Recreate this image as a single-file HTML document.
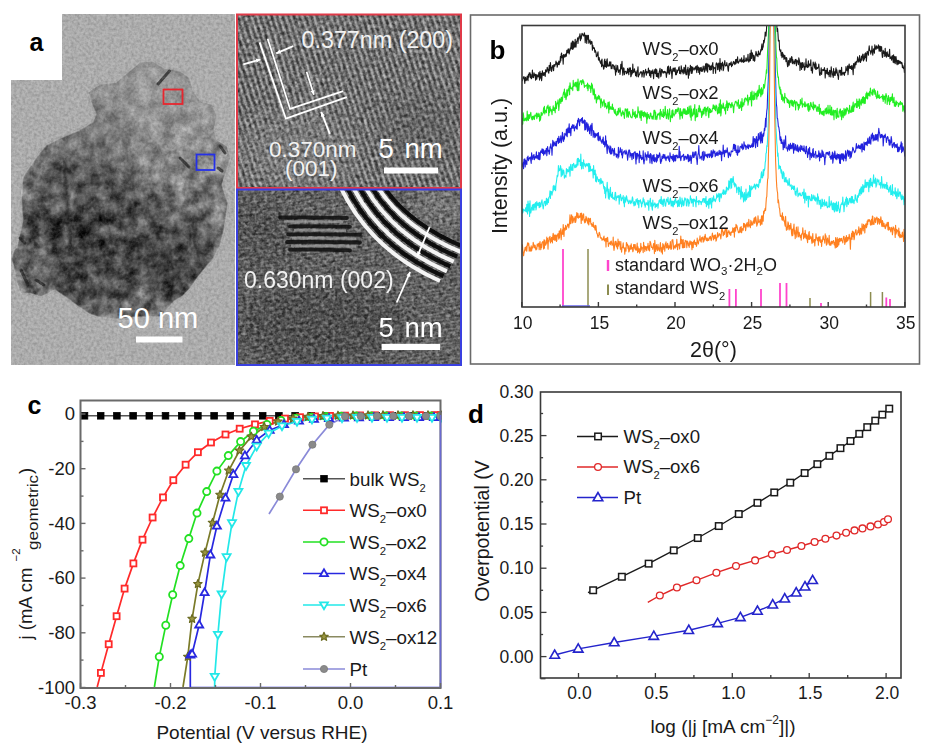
<!DOCTYPE html>
<html><head><meta charset="utf-8"><style>
html,body{margin:0;padding:0;background:#fff;width:928px;height:752px;overflow:hidden}
svg{display:block}
</style></head><body>
<svg width="928" height="752" viewBox="0 0 928 752">
<rect width="928" height="752" fill="#fff"/>
<defs>
<filter id="noiseA" x="0" y="0" width="100%" height="100%">
  <feTurbulence type="fractalNoise" baseFrequency="0.35" numOctaves="2" seed="3" result="n"/>
  <feColorMatrix in="n" type="matrix" values="0 0 0 0 0  0 0 0 0 0  0 0 0 0 0  1.6 0 0 0 -0.55" />
</filter>
<filter id="noiseW" x="0" y="0" width="100%" height="100%">
  <feTurbulence type="fractalNoise" baseFrequency="0.35" numOctaves="2" seed="9" result="n"/>
  <feColorMatrix in="n" type="matrix" values="0 0 0 0 1  0 0 0 0 1  0 0 0 0 1  1.6 0 0 0 -0.6" />
</filter>
<filter id="noiseB" x="0" y="0" width="100%" height="100%">
  <feTurbulence type="fractalNoise" baseFrequency="0.28" numOctaves="2" seed="5" result="n"/>
  <feColorMatrix in="n" type="matrix" values="0 0 0 0 0  0 0 0 0 0  0 0 0 0 0  2.2 0 0 0 -0.75" />
</filter>
<filter id="noiseBW" x="0" y="0" width="100%" height="100%">
  <feTurbulence type="fractalNoise" baseFrequency="0.28" numOctaves="2" seed="11" result="n"/>
  <feColorMatrix in="n" type="matrix" values="0 0 0 0 1  0 0 0 0 1  0 0 0 0 1  2.2 0 0 0 -0.8" />
</filter>
<filter id="texD" x="0" y="0" width="100%" height="100%">
  <feTurbulence type="fractalNoise" baseFrequency="0.09" numOctaves="3" seed="4" result="n"/>
  <feColorMatrix in="n" type="matrix" values="0 0 0 0 0.08  0 0 0 0 0.08  0 0 0 0 0.08  0 0 -3.2 0 1.55" />
</filter>
<filter id="texL" x="0" y="0" width="100%" height="100%">
  <feTurbulence type="fractalNoise" baseFrequency="0.11" numOctaves="3" seed="17" result="n"/>
  <feColorMatrix in="n" type="matrix" values="0 0 0 0 0.9  0 0 0 0 0.9  0 0 0 0 0.9  0 0 3.2 0 -1.75" />
</filter>
<filter id="texO" x="0" y="0" width="100%" height="100%" color-interpolation-filters="sRGB">
  <feTurbulence type="fractalNoise" baseFrequency="0.08" numOctaves="3" seed="4" result="n"/>
  <feColorMatrix in="n" type="matrix" values="1.5 0 0 0 -0.33  1.5 0 0 0 -0.33  1.5 0 0 0 -0.33  0 0 0 0 1" />
</filter>
<filter id="blur3"><feGaussianBlur stdDeviation="3"/></filter>
<filter id="blur6"><feGaussianBlur stdDeviation="6"/></filter>
<filter id="blur10"><feGaussianBlur stdDeviation="10"/></filter>
<filter id="blur1"><feGaussianBlur stdDeviation="0.8"/></filter>
<filter id="blur05"><feGaussianBlur stdDeviation="0.5"/></filter>
<clipPath id="clipL"><rect x="11" y="14" width="224" height="351"/></clipPath>
<clipPath id="clipT"><rect x="237" y="15" width="224" height="173"/></clipPath>
<clipPath id="clipB"><rect x="237" y="190" width="224" height="175"/></clipPath>
<clipPath id="clipPb"><rect x="522" y="25.5" width="383" height="282"/></clipPath>
<clipPath id="clipPc"><rect x="80" y="400" width="362" height="289"/></clipPath>
<clipPath id="clipPd"><rect x="540" y="392" width="362" height="287"/></clipPath>
<pattern id="fringeT" patternUnits="userSpaceOnUse" width="5.4" height="40" patternTransform="rotate(-18)">
  <rect width="5.4" height="40" fill="#4a4a4a"/>
  <rect x="0.6" width="2.6" height="40" fill="#a2a2a2"/>
</pattern>
<pattern id="fringeB" patternUnits="userSpaceOnUse" width="40" height="3.4" patternTransform="rotate(-8)">
  <rect width="40" height="3.4" fill="#565656"/>
  <rect y="0" width="40" height="1.4" fill="#6e6e6e"/>
</pattern>
</defs>
<clipPath id="clipPart"><polygon points="11,259 14,250 17,247 22.7,221 21.2,197.7 22.7,177.3 34.4,159.7 46,145 60.7,137.8 78.3,130.5 92.9,121.7 96,114 91,102 88,92 100,84 116,82 128,72 140,62 152,61 165,68 180,71 190,78 193,90 200,101 212,104 217,116 214,130 217,140 227,146 231,158 226,172 222,185 228,203 224,230 220.6,244.2 213.7,258 203.3,270.1 196.4,278.8 189.5,289.1 182.6,296 174,301.2 167,310 160,316.8 136,317 113.8,319.3 99.9,317.6 89.5,314 79.2,307.2 65.3,296.8 55,290 41.1,296.8 30.7,293.4 20.4,293.4 16.9,283 13.5,265.7"/></clipPath>
<g clip-path="url(#clipL)">
<rect x="11" y="14" width="224" height="351" fill="#b2b2b2"/>
<polygon points="11,259 14,250 17,247 22.7,221 21.2,197.7 22.7,177.3 34.4,159.7 46,145 60.7,137.8 78.3,130.5 92.9,121.7 96,114 91,102 88,92 100,84 116,82 128,72 140,62 152,61 165,68 180,71 190,78 193,90 200,101 212,104 217,116 214,130 217,140 227,146 231,158 226,172 222,185 228,203 224,230 220.6,244.2 213.7,258 203.3,270.1 196.4,278.8 189.5,289.1 182.6,296 174,301.2 167,310 160,316.8 136,317 113.8,319.3 99.9,317.6 89.5,314 79.2,307.2 65.3,296.8 55,290 41.1,296.8 30.7,293.4 20.4,293.4 16.9,283 13.5,265.7" fill="#7c7c7c" filter="url(#blur1)"/>
<g clip-path="url(#clipPart)"><g filter="url(#blur6)">
<polygon points="88,92 100,84 116,82 128,72 140,62 152,61 165,68 180,71 190,78 193,90 200,101 212,104 217,116 214,130 217,140 227,146 231,158 226,172 215,180 195,170 170,150 140,135 120,125 100,118" fill="#aaaaaa"/>
<polygon points="92,100 120,95 130,110 125,128 100,130 90,120" fill="#8c8c8c"/>
<polygon points="130,128 160,135 200,150 215,175 205,195 180,190 150,175 130,160" fill="#a2a2a2"/>
<ellipse cx="92" cy="235" rx="68" ry="66" fill="#0a0a0a"/><ellipse cx="75" cy="212" rx="32" ry="26" fill="#000"/>
<ellipse cx="165" cy="255" rx="50" ry="45" fill="#1e1e1e"/><ellipse cx="140" cy="215" rx="30" ry="25" fill="#333"/>
<ellipse cx="72" cy="185" rx="35" ry="28" fill="#4a4a4a"/>
<ellipse cx="120" cy="300" rx="45" ry="16" fill="#505050"/>
<ellipse cx="190" cy="215" rx="25" ry="20" fill="#5e5e5e"/>
<ellipse cx="35" cy="270" rx="22" ry="20" fill="#686868"/>
</g>
</g>
<g clip-path="url(#clipPart)">
<mask id="texMask" maskUnits="userSpaceOnUse" x="11" y="14" width="224" height="351"><rect x="11" y="14" width="224" height="351" fill="url(#texGrad)"/></mask>
<linearGradient id="texGrad" gradientUnits="userSpaceOnUse" x1="0" y1="70" x2="0" y2="200"><stop offset="0" stop-color="#555"/><stop offset="1" stop-color="#fff"/></linearGradient>
<rect x="11" y="50" width="224" height="280" filter="url(#texO)" opacity="0.5" mask="url(#texMask)"/>
</g>
<polygon points="11,259 14,250 17,247 22.7,221 21.2,197.7 22.7,177.3 34.4,159.7 46,145 60.7,137.8 78.3,130.5 92.9,121.7 96,114 91,102 88,92 100,84 116,82 128,72 140,62 152,61 165,68 180,71 190,78 193,90 200,101 212,104 217,116 214,130 217,140 227,146 231,158 226,172 222,185 228,203 224,230 220.6,244.2 213.7,258 203.3,270.1 196.4,278.8 189.5,289.1 182.6,296 174,301.2 167,310 160,316.8 136,317 113.8,319.3 99.9,317.6 89.5,314 79.2,307.2 65.3,296.8 55,290 41.1,296.8 30.7,293.4 20.4,293.4 16.9,283 13.5,265.7" fill="none" stroke="#d4d4d4" stroke-width="1.4" opacity="0.4" filter="url(#blur05)"/>
<line x1="64" y1="160" x2="71" y2="250" stroke="#1a1a1a" stroke-width="3" opacity="0.7" filter="url(#blur1)"/>
<g stroke="#1a1a1a" stroke-width="3" opacity="0.7" stroke-linecap="round" filter="url(#blur05)"><line x1="20" y1="238" x2="25" y2="243"/><line x1="21" y1="270" x2="28" y2="285"/><line x1="36" y1="280" x2="44" y2="285"/><line x1="180" y1="158" x2="189" y2="167"/><line x1="220" y1="146" x2="225" y2="153"/><line x1="218" y1="168" x2="222" y2="171"/></g>
<line x1="158" y1="84" x2="169.5" y2="71" stroke="#2a2a2a" stroke-width="3" opacity="0.8" stroke-linecap="round"/>
<rect x="11" y="14" width="224" height="351" filter="url(#noiseA)" opacity="0.2"/>
<rect x="11" y="14" width="224" height="351" filter="url(#noiseW)" opacity="0.17"/>
</g>
<rect x="163.5" y="89.5" width="19" height="14.5" fill="none" stroke="#e8262e" stroke-width="1.8"/>
<rect x="196.5" y="154.5" width="18" height="15.5" fill="none" stroke="#2530e8" stroke-width="1.8"/>
<rect x="11" y="14" width="51" height="66" fill="#fff"/>
<text x="29.5" y="51" font-family='"Liberation Sans", sans-serif' font-weight="bold" font-size="25" fill="#000">a</text>
<text x="117.6" y="327.6" font-family='"Liberation Sans", sans-serif' font-size="29" fill="#fff">50 nm</text>
<rect x="136" y="336.5" width="46.5" height="6" fill="#fff"/>
<g clip-path="url(#clipT)">
<rect x="237" y="15" width="224" height="173" fill="url(#fringeT)"/>
<g filter="url(#blur10)" opacity="0.5"><ellipse cx="300" cy="150" rx="60" ry="40" fill="#8a8a8a"/><ellipse cx="420" cy="130" rx="40" ry="40" fill="#5a5a5a"/></g>
<rect x="237" y="15" width="224" height="173" filter="url(#noiseB)" opacity="0.45"/>
<rect x="237" y="15" width="224" height="173" filter="url(#noiseBW)" opacity="0.35"/>
</g>
<rect x="237" y="14.5" width="224" height="173.5" fill="none" stroke="#e03a48" stroke-width="2"/>
<polyline points="259.6,42.4 285.9,118.7 346.8,97.2" stroke="#fff" stroke-width="1.8" fill="none"/>
<polyline points="267.7,38.8 290.1,108.9 343.2,91.2" stroke="#fff" stroke-width="1.8" fill="none"/>
<line x1="243.3" y1="64.4" x2="260.4" y2="59.5" stroke="#fff" stroke-width="1.8"/><polygon points="260.4,59.5 256.7,62.8 255.5,58.6" fill="#fff"/>
<line x1="293.2" y1="46.1" x2="276.2" y2="53.4" stroke="#fff" stroke-width="1.8"/><polygon points="276.2,53.4 279.5,49.6 281.2,53.6" fill="#fff"/>
<line x1="306.6" y1="71.7" x2="313.9" y2="94.8" stroke="#fff" stroke-width="1.8"/><polygon points="313.9,94.8 310.5,91.2 314.6,89.9" fill="#fff"/>
<line x1="329.8" y1="133.8" x2="321.2" y2="111.9" stroke="#fff" stroke-width="1.8"/><polygon points="321.2,111.9 324.9,115.3 320.8,116.9" fill="#fff"/>
<text x="301.5" y="48" font-family='"Liberation Sans", sans-serif' font-size="23.3" fill="#f2f2f2">0.377nm (200)</text>
<text x="269" y="157" font-family='"Liberation Sans", sans-serif' font-size="22.5" fill="#f2f2f2">0.370nm</text>
<text x="285" y="175.5" font-family='"Liberation Sans", sans-serif' font-size="22.5" fill="#f2f2f2">(001)</text>
<text x="378.5" y="158" font-family='"Liberation Sans", sans-serif' font-size="27.5" fill="#fff">5</text>
<text x="404.5" y="158" font-family='"Liberation Sans", sans-serif' font-size="27.5" fill="#fff">nm</text>
<rect x="384" y="167.5" width="54" height="6" fill="#fff"/>
<g clip-path="url(#clipB)">
<rect x="237" y="190" width="224" height="175" fill="url(#fringeB)"/>
<g filter="url(#blur10)"><ellipse cx="320" cy="325" rx="85" ry="40" fill="#3c3c3c" opacity="0.6"/><ellipse cx="262" cy="235" rx="28" ry="35" fill="#444" opacity="0.6"/><ellipse cx="440" cy="205" rx="30" ry="25" fill="#8a8a8a" opacity="0.6"/></g>
<rect x="237" y="190" width="224" height="175" filter="url(#noiseB)" opacity="0.5"/>
<rect x="237" y="190" width="224" height="175" filter="url(#noiseBW)" opacity="0.35"/>
<g filter="url(#blur05)">
<path d="M280.0,217.5 Q313.5,217.0 347.0,218.0" stroke="#101010" stroke-width="3.8" fill="none" opacity="0.85" stroke-linecap="round"/>
<path d="M284.0,221.5 Q313.5,221.0 343.0,222.0" stroke="#a8a8a8" stroke-width="2.4" fill="none" opacity="0.6"/>
<path d="M290.0,226.3 Q320.0,225.8 350.0,226.8" stroke="#101010" stroke-width="3.8" fill="none" opacity="0.85" stroke-linecap="round"/>
<path d="M294.0,230.3 Q320.0,229.8 346.0,230.8" stroke="#a8a8a8" stroke-width="2.4" fill="none" opacity="0.6"/>
<path d="M288.0,234.3 Q324.0,233.8 360.0,234.8" stroke="#101010" stroke-width="3.8" fill="none" opacity="0.85" stroke-linecap="round"/>
<path d="M292.0,238.3 Q324.0,237.8 356.0,238.8" stroke="#a8a8a8" stroke-width="2.4" fill="none" opacity="0.6"/>
<path d="M287.0,242.0 Q323.5,241.5 360.0,242.5" stroke="#101010" stroke-width="3.8" fill="none" opacity="0.85" stroke-linecap="round"/>
<path d="M291.0,246.0 Q323.5,245.5 356.0,246.5" stroke="#a8a8a8" stroke-width="2.4" fill="none" opacity="0.6"/>
<path d="M290.0,249.8 Q320.0,249.3 350.0,250.3" stroke="#101010" stroke-width="3.8" fill="none" opacity="0.85" stroke-linecap="round"/>
</g>
<g filter="url(#blur05)">
<path d="M340.0,186.0 Q370.0,250.0 440.0,281.0" stroke="#f4f4f4" stroke-width="4" fill="none"/>
<path d="M346.1,186.0 Q375.7,246.4 443.4,276.1" stroke="#080808" stroke-width="4" fill="none"/>
<path d="M352.3,186.0 Q381.4,242.9 446.9,271.3" stroke="#f4f4f4" stroke-width="4" fill="none"/>
<path d="M358.4,186.0 Q387.1,239.3 450.3,266.4" stroke="#080808" stroke-width="4" fill="none"/>
<path d="M364.6,186.0 Q392.9,235.7 453.7,261.6" stroke="#f4f4f4" stroke-width="4" fill="none"/>
<path d="M370.7,186.0 Q398.6,232.1 457.1,256.7" stroke="#080808" stroke-width="4" fill="none"/>
<path d="M376.9,186.0 Q404.3,228.6 460.6,251.9" stroke="#f4f4f4" stroke-width="4" fill="none"/>
<path d="M383.0,186.0 Q410.0,225.0 464.0,247.0" stroke="#080808" stroke-width="4" fill="none"/>
</g>
</g>
<rect x="237" y="189.5" width="224" height="175.5" fill="none" stroke="#3a40e0" stroke-width="2"/>
<line x1="396.7" y1="302.5" x2="410.1" y2="272.0" stroke="#fff" stroke-width="1.8"/><polygon points="410.1,272.0 410.3,277.0 406.3,275.2" fill="#fff"/>
<line x1="429.6" y1="227.0" x2="417.4" y2="256.2" stroke="#fff" stroke-width="1.8"/><polygon points="417.4,256.2 417.1,251.2 421.1,252.9" fill="#fff"/>
<text x="244" y="288" font-family='"Liberation Sans", sans-serif' font-size="23" fill="#f2f2f2">0.630nm (002)</text>
<text x="378.5" y="336.5" font-family='"Liberation Sans", sans-serif' font-size="27.5" fill="#fff">5</text>
<text x="404.5" y="336.5" font-family='"Liberation Sans", sans-serif' font-size="27.5" fill="#fff">nm</text>
<rect x="381.6" y="343.8" width="58.5" height="6.2" fill="#fff"/>
<rect x="470.5" y="15" width="449" height="349" fill="#fff" stroke="#6a6a6a" stroke-width="1.6"/>
<g clip-path="url(#clipPb)">
<polyline points="522,79.9 522.4,80.8 522.8,79 523.2,77 523.6,78.3 524,76.6 524.4,79.6 524.8,83.4 525.2,77.8 525.6,77.3 526,80.6 526.4,80.1 526.8,79.2 527.2,76 527.6,78.7 528,80.7 528.4,74.5 528.8,77.1 529.2,72.7 529.6,74.4 530,72.7 530.4,77.4 530.8,74.2 531.2,78.8 531.6,78.3 532,77.2 532.4,70.1 532.8,76 533.2,77.3 533.6,77.7 534,72.7 534.4,75.8 534.8,74.2 535.2,74.6 535.6,80.1 536,74.4 536.4,76.7 536.8,79.3 537.2,74.9 537.6,76.2 538,76.8 538.4,76.5 538.8,72.6 539.2,76.4 539.6,80.1 540,71.3 540.4,78.2 540.8,75.8 541.2,73.2 541.6,80.8 542,76.8 542.4,70.7 542.8,74.2 543.2,75.4 543.6,72.8 544,75.1 544.4,72.6 544.8,74.5 545.2,76.5 545.6,69.9 546,72.3 546.4,70 546.8,71.5 547.2,67.2 547.6,68.8 548,69.6 548.4,72.6 548.8,73.1 549.2,65.4 549.6,66.7 550,70.7 550.4,62.5 550.8,66.8 551.2,67.6 551.6,71.4 552,69.4 552.4,66 552.8,65.6 553.2,65.7 553.6,70.7 554,64.6 554.4,64.7 554.8,66.3 555.2,64.6 555.6,64.1 556,61.1 556.4,64.1 556.8,62.5 557.2,67.1 557.6,65.2 558,62.8 558.4,64.5 558.8,61.1 559.2,64.8 559.6,61.2 560,62.6 560.4,56.5 560.8,61 561.2,54.5 561.6,53 562,57.8 562.4,55.6 562.8,58.3 563.2,64.1 563.6,54.5 564,54.7 564.4,56.7 564.8,57.2 565.2,54.7 565.6,54.2 566,56.5 566.4,55.5 566.8,50.4 567.2,52.9 567.6,52.8 568,49.1 568.4,52.6 568.8,48.8 569.2,53.9 569.6,51.1 570,50.4 570.4,47.9 570.8,48.9 571.2,42.8 571.6,45 572,49 572.4,41.1 572.8,49.5 573.2,41.2 573.6,48.2 574,42.8 574.4,47.2 574.8,44.7 575.2,39.2 575.6,47 576,47.1 576.4,42.1 576.8,40.9 577.2,40.7 577.6,37.8 578,43.5 578.4,38 578.8,39 579.2,36.2 579.6,36.2 580,33.7 580.4,40.8 580.8,36.1 581.2,38.9 581.6,35.6 582,33.3 582.4,34.4 582.8,34 583.2,36 583.6,35.2 584,35.8 584.4,32.9 584.8,35 585.2,42.7 585.6,36.1 586,35.3 586.4,39.8 586.8,43.4 587.2,35.2 587.6,39.2 588,38.3 588.4,35.3 588.8,43.1 589.2,41.2 589.6,41.9 590,39.9 590.4,44.1 590.8,41.8 591.2,43.6 591.6,41.4 592,41.8 592.4,50.2 592.8,45.3 593.2,48.4 593.6,48.2 594,47.6 594.4,48.1 594.8,52.3 595.2,50.2 595.6,51.3 596,52.5 596.4,56.7 596.8,55.9 597.2,55.7 597.6,53.6 598,51.8 598.4,59.5 598.8,60.3 599.2,57.6 599.6,60.4 600,61.8 600.4,62.7 600.8,63.6 601.2,60.2 601.6,66.8 602,59 602.4,65.7 602.8,64.8 603.2,66.1 603.6,69.3 604,68.3 604.4,60.6 604.8,59.1 605.2,66.8 605.6,61.5 606,64.7 606.4,67.4 606.8,60.2 607.2,58.9 607.6,66.2 608,65.8 608.4,65.1 608.8,66.1 609.2,63.6 609.6,61.8 610,66 610.4,63.8 610.8,61.9 611.2,68.6 611.6,67 612,68.6 612.4,64.6 612.8,65.8 613.2,64.9 613.6,65.5 614,68.9 614.4,66.1 614.8,69.7 615.2,69.8 615.6,75.1 616,65 616.4,72 616.8,69.3 617.2,69.7 617.6,65.5 618,68.7 618.4,72.5 618.8,70.2 619.2,70.8 619.6,69.9 620,74.4 620.4,70.9 620.8,64.4 621.2,69 621.6,65.2 622,61.3 622.4,69.5 622.8,75.1 623.2,71.3 623.6,67.7 624,68.4 624.4,74.6 624.8,71.7 625.2,71.4 625.6,71.2 626,71.5 626.4,73.8 626.8,73.1 627.2,72.1 627.6,68.3 628,73 628.4,69.5 628.8,74.8 629.2,67.8 629.6,71.2 630,71.6 630.4,67.7 630.8,76.8 631.2,76.1 631.6,70.3 632,74.1 632.4,72.9 632.8,64 633.2,72.6 633.6,71.7 634,72.1 634.4,68.7 634.8,71.1 635.2,71.4 635.6,75.6 636,73 636.4,72 636.8,76.7 637.2,70.4 637.6,71 638,66.7 638.4,76.9 638.8,75.1 639.2,75 639.6,74.3 640,72.6 640.4,73 640.8,71.6 641.2,71.7 641.6,72.5 642,76.9 642.4,74.1 642.8,72.3 643.2,70.8 643.6,70.6 644,77.3 644.4,74.1 644.8,72.8 645.2,71.6 645.6,69.3 646,72.5 646.4,75.3 646.8,71.5 647.2,72.1 647.6,72.1 648,73.1 648.4,68.1 648.8,72.1 649.2,70.3 649.6,75.6 650,70.6 650.4,74.6 650.8,77.5 651.2,71.9 651.6,71 652,73.4 652.4,72.8 652.8,69.8 653.2,74.1 653.6,78.8 654,71.9 654.4,72.1 654.8,69.5 655.2,73.6 655.6,68.9 656,69.2 656.4,76.4 656.8,69.8 657.2,75.7 657.6,77 658,73.2 658.4,74.1 658.8,78.3 659.2,71.8 659.6,70.6 660,68.3 660.4,72.4 660.8,76.7 661.2,75.1 661.6,69.4 662,69.6 662.4,70.7 662.8,73 663.2,71.5 663.6,72.7 664,73 664.4,71.2 664.8,71.9 665.2,72.6 665.6,71.7 666,73.5 666.4,77.5 666.8,73.7 667.2,72 667.6,66.8 668,73 668.4,66 668.8,67.6 669.2,74.3 669.6,73.9 670,71.3 670.4,66.6 670.8,70.5 671.2,69.6 671.6,73.5 672,78.4 672.4,72.2 672.8,69.2 673.2,68 673.6,71.3 674,70.9 674.4,68 674.8,71.8 675.2,67.9 675.6,74.7 676,74.5 676.4,74.6 676.8,69.9 677.2,72.8 677.6,70.8 678,70 678.4,70.2 678.8,67.3 679.2,66.8 679.6,73.5 680,70.5 680.4,71.7 680.8,74 681.2,65.8 681.6,68.6 682,71.5 682.4,72.1 682.8,69.8 683.2,74 683.6,71.5 684,67.2 684.4,68 684.8,73.2 685.2,72.2 685.6,65 686,74.8 686.4,72.5 686.8,74.7 687.2,69.5 687.6,69.7 688,67.2 688.4,78.2 688.8,70 689.2,75.3 689.6,68.5 690,70.9 690.4,65.4 690.8,69.3 691.2,73.3 691.6,66.6 692,73.5 692.4,71.3 692.8,67.1 693.2,68.7 693.6,68.8 694,70.1 694.4,68.6 694.8,67.7 695.2,69.2 695.6,67 696,66.2 696.4,69.9 696.8,72.7 697.2,65.4 697.6,70 698,68 698.4,67 698.8,72.5 699.2,68.3 699.6,74.3 700,67.5 700.4,70.9 700.8,69 701.2,67.4 701.6,71.4 702,69.1 702.4,71.3 702.8,69.3 703.2,66.1 703.6,69 704,69.4 704.4,72.1 704.8,66.4 705.2,69 705.6,63.9 706,70.9 706.4,65.7 706.8,63.4 707.2,68.6 707.6,72.1 708,64.1 708.4,65.4 708.8,66.4 709.2,65.1 709.6,69.6 710,66 710.4,66.2 710.8,70.1 711.2,66 711.6,69.5 712,65.2 712.4,64.4 712.8,62.5 713.2,73.5 713.6,66.9 714,68.6 714.4,67.7 714.8,68.2 715.2,67.8 715.6,73.3 716,64.4 716.4,62.8 716.8,64.4 717.2,63.4 717.6,69.6 718,69.7 718.4,64.3 718.8,63 719.2,66 719.6,71.2 720,58.5 720.4,68.5 720.8,63.6 721.2,69.9 721.6,63.5 722,65.8 722.4,62.1 722.8,63.6 723.2,70.7 723.6,68.9 724,65.2 724.4,63.7 724.8,60.6 725.2,65 725.6,66 726,65.8 726.4,65.7 726.8,62.6 727.2,65.7 727.6,65.7 728,69.6 728.4,71.3 728.8,65.2 729.2,63.3 729.6,65.3 730,63.6 730.4,63.1 730.8,65 731.2,61.9 731.6,66.7 732,64.5 732.4,65.4 732.8,64 733.2,62.2 733.6,61.4 734,63.4 734.4,62.3 734.8,64.6 735.2,63.7 735.6,59.5 736,63.7 736.4,59.3 736.8,61.3 737.2,62.2 737.6,56.7 738,63 738.4,63.1 738.8,62 739.2,61.1 739.6,61.1 740,59.1 740.4,61.1 740.8,60.1 741.2,61.9 741.6,57.9 742,62 742.4,61.6 742.8,60.6 743.2,59.6 743.6,62.4 744,55.6 744.4,61.8 744.8,61 745.2,60.9 745.6,61.1 746,57.8 746.4,58.8 746.8,61.3 747.2,60.6 747.6,59.7 748,54.4 748.4,60.4 748.8,62.1 749.2,61.4 749.6,58.9 750,53.4 750.4,60.7 750.8,57.3 751.2,50 751.6,58.5 752,52.7 752.4,53.2 752.8,55 753.2,60.5 753.6,55.4 754,57.1 754.4,61.3 754.8,60.7 755.2,55.3 755.6,54.7 756,51.4 756.4,52.8 756.8,55.9 757.2,55.5 757.6,54.3 758,56.6 758.4,51 758.8,52.7 759.2,54.7 759.6,53.8 760,54.7 760.4,52.2 760.8,49.5 761.2,51 761.6,46.3 762,43.8 762.4,49.8 762.8,47.1 763.2,47.2 763.6,40.2 764,42.9 764.4,40.8 764.8,38.2 765.2,32 765.6,35.4 766,36.1 766.4,31 766.8,23.6 767.2,20 767.6,20 768,20 768.4,20 768.8,20 769.2,20 769.6,20 770,20 770.4,20 770.8,20 771.2,20 771.6,20 772,20 772.4,20 772.8,20 773.2,20 773.6,20 774,20 774.4,20 774.8,20 775.2,20 775.6,20 776,20 776.4,20 776.8,25 777.2,31.5 777.6,28.5 778,34.1 778.4,41 778.8,40.7 779.2,40.4 779.6,50 780,50.1 780.4,51.5 780.8,49.9 781.2,55.6 781.6,52.8 782,57.7 782.4,52.4 782.8,53.2 783.2,57 783.6,54.8 784,59.4 784.4,58.5 784.8,55.4 785.2,58.7 785.6,57.7 786,61.8 786.4,57.5 786.8,58.3 787.2,63.5 787.6,66.8 788,66.2 788.4,60.6 788.8,61.2 789.2,65.3 789.6,60.5 790,58.1 790.4,61.5 790.8,62.6 791.2,58.9 791.6,56.5 792,57.3 792.4,63.7 792.8,59.5 793.2,61.4 793.6,62.6 794,63.9 794.4,61.1 794.8,63.6 795.2,59.5 795.6,61.2 796,59.2 796.4,65.8 796.8,62.3 797.2,60.3 797.6,61.5 798,61.9 798.4,64.7 798.8,57.9 799.2,59.6 799.6,61.6 800,70.4 800.4,65.8 800.8,62.7 801.2,65.4 801.6,69.5 802,62.8 802.4,62.6 802.8,67.5 803.2,65.4 803.6,66.1 804,62.7 804.4,70.2 804.8,69.7 805.2,66.4 805.6,66.9 806,58.9 806.4,67 806.8,64.7 807.2,66.7 807.6,67.6 808,64.6 808.4,60.7 808.8,67 809.2,63.8 809.6,65.2 810,64.5 810.4,65.4 810.8,59.7 811.2,70.4 811.6,67.6 812,70.3 812.4,73.1 812.8,67.3 813.2,62 813.6,64.8 814,64 814.4,66.3 814.8,68.2 815.2,62 815.6,69.2 816,63.8 816.4,69.3 816.8,68.2 817.2,67.7 817.6,68.6 818,67.3 818.4,67.2 818.8,64.1 819.2,69.2 819.6,75 820,75.5 820.4,73.7 820.8,71.9 821.2,67.9 821.6,74.4 822,70 822.4,70 822.8,69.5 823.2,70.7 823.6,69.3 824,70.4 824.4,67.6 824.8,69.8 825.2,77.9 825.6,70.9 826,70.5 826.4,73 826.8,73.6 827.2,68.2 827.6,71.1 828,74.6 828.4,72.7 828.8,72.4 829.2,76.8 829.6,70.2 830,72.6 830.4,70.9 830.8,77 831.2,66.8 831.6,70.8 832,71.3 832.4,75 832.8,74.9 833.2,77.4 833.6,68.6 834,75.7 834.4,72.7 834.8,71.7 835.2,75.4 835.6,71.1 836,67.7 836.4,73 836.8,69.7 837.2,72.4 837.6,75.5 838,75.4 838.4,79.4 838.8,74 839.2,70 839.6,72.2 840,71.5 840.4,70.4 840.8,75.1 841.2,71.6 841.6,67.4 842,75.2 842.4,72.6 842.8,73.7 843.2,72.8 843.6,74.1 844,72.1 844.4,75.5 844.8,72.8 845.2,72.5 845.6,72.3 846,66.5 846.4,70.2 846.8,69.7 847.2,70.8 847.6,65.9 848,74.7 848.4,69.9 848.8,65.7 849.2,64 849.6,68 850,68.4 850.4,66.3 850.8,68.5 851.2,66.1 851.6,69.4 852,65.4 852.4,67.2 852.8,70 853.2,74.6 853.6,63.6 854,65 854.4,63.7 854.8,68.3 855.2,62.1 855.6,63.7 856,64.7 856.4,61.4 856.8,61.1 857.2,62.1 857.6,56.8 858,58.3 858.4,61 858.8,62.2 859.2,60.8 859.6,55.6 860,59.1 860.4,62.5 860.8,61.3 861.2,59 861.6,56.1 862,60.2 862.4,56.2 862.8,54 863.2,54.6 863.6,61 864,56.9 864.4,59.2 864.8,53.9 865.2,57.7 865.6,52.7 866,53.6 866.4,61.1 866.8,55.5 867.2,51.3 867.6,52.1 868,53 868.4,55.3 868.8,49.9 869.2,45.9 869.6,50.1 870,50.7 870.4,50.7 870.8,54.1 871.2,50.9 871.6,52.1 872,46.1 872.4,51.8 872.8,55.2 873.2,51 873.6,49.2 874,48.6 874.4,53.3 874.8,44.9 875.2,47.1 875.6,48.6 876,49.4 876.4,45.9 876.8,48.3 877.2,46.7 877.6,48.2 878,47.6 878.4,44.8 878.8,48.4 879.2,51.3 879.6,46 880,48.4 880.4,51.4 880.8,46.4 881.2,50.4 881.6,46.9 882,53.7 882.4,57.4 882.8,56.8 883.2,50.3 883.6,53.4 884,51.7 884.4,51.9 884.8,56.5 885.2,48.2 885.6,55.6 886,52.6 886.4,57.3 886.8,53.9 887.2,51.7 887.6,54.8 888,56.5 888.4,54.8 888.8,56.4 889.2,53.7 889.6,49.2 890,58.6 890.4,58.3 890.8,57 891.2,57.1 891.6,60.3 892,56.2 892.4,55.7 892.8,57.6 893.2,62.1 893.6,54.7 894,62.7 894.4,57.5 894.8,56.5 895.2,63.8 895.6,60 896,56.6 896.4,59.7 896.8,63.8 897.2,64.8 897.6,60.2 898,63 898.4,64.1 898.8,60.3 899.2,63.5 899.6,62.6 900,61.3 900.4,61.7 900.8,63.6 901.2,63.8 901.6,62.2 902,62.9 902.4,67.7 902.8,65.3 903.2,67.5 903.6,68.7 904,67.1 904.4,72.4 904.8,63.3 905.2,68.3" fill="none" stroke="#1a1a1a" stroke-width="1.1" stroke-linejoin="round"/>
<polyline points="522,118 522.4,124.5 522.8,123.9 523.2,112.9 523.6,115.7 524,120.5 524.4,120.8 524.8,120.6 525.2,118.1 525.6,119.5 526,120.1 526.4,117.8 526.8,121 527.2,111 527.6,119.6 528,114.5 528.4,120.4 528.8,116.8 529.2,114.7 529.6,118.4 530,114.5 530.4,114.4 530.8,112.3 531.2,116.9 531.6,118.3 532,119.8 532.4,116.2 532.8,119.7 533.2,116.5 533.6,116.1 534,118 534.4,119.4 534.8,115.1 535.2,115.3 535.6,115.5 536,116.1 536.4,113.1 536.8,118.8 537.2,114.4 537.6,116.9 538,113 538.4,116.4 538.8,116.4 539.2,113.9 539.6,121.1 540,116.1 540.4,120.1 540.8,117.5 541.2,112.4 541.6,113.1 542,115.4 542.4,114 542.8,113.8 543.2,112.6 543.6,107.9 544,112.4 544.4,106.3 544.8,113.9 545.2,110.4 545.6,110.2 546,111.5 546.4,112.8 546.8,107.5 547.2,106.4 547.6,108.2 548,105.1 548.4,108.2 548.8,115.6 549.2,107.5 549.6,112.5 550,106.2 550.4,111 550.8,109 551.2,109.6 551.6,111.3 552,114.6 552.4,109.8 552.8,109.4 553.2,105.9 553.6,110.4 554,107.7 554.4,110.7 554.8,107.8 555.2,112.8 555.6,101.2 556,105.8 556.4,108.8 556.8,104.6 557.2,102.7 557.6,103.8 558,99.9 558.4,103.9 558.8,110.4 559.2,106 559.6,98.7 560,98.9 560.4,99.7 560.8,103.5 561.2,97.5 561.6,97.3 562,101.5 562.4,101 562.8,96.7 563.2,94 563.6,92.1 564,94.2 564.4,89.1 564.8,97.5 565.2,92.9 565.6,95.8 566,99.6 566.4,97.1 566.8,89.7 567.2,95.4 567.6,95.9 568,89.7 568.4,88.7 568.8,90.8 569.2,86 569.6,94.8 570,82.8 570.4,86.3 570.8,88.4 571.2,88.1 571.6,88.9 572,88.8 572.4,86.9 572.8,90.6 573.2,80.4 573.6,86.4 574,83.8 574.4,86 574.8,85.9 575.2,82.2 575.6,82.8 576,86.9 576.4,85.3 576.8,82 577.2,90 577.6,90.6 578,79.1 578.4,84.2 578.8,90.6 579.2,85.2 579.6,83.3 580,81.9 580.4,80.7 580.8,81.6 581.2,80.6 581.6,84.6 582,81.4 582.4,81.6 582.8,79.6 583.2,83.3 583.6,81 584,83.4 584.4,87.4 584.8,85.6 585.2,86.3 585.6,86.1 586,85.5 586.4,85.2 586.8,84.9 587.2,88.4 587.6,83.1 588,90.7 588.4,87 588.8,84.9 589.2,86 589.6,85.7 590,88.5 590.4,86.3 590.8,92.4 591.2,87.1 591.6,83.1 592,88.2 592.4,84.8 592.8,91.2 593.2,94.9 593.6,94.2 594,88.7 594.4,90.9 594.8,99 595.2,95.1 595.6,94.6 596,98.3 596.4,102.9 596.8,99.9 597.2,96.9 597.6,98.1 598,99.3 598.4,96.1 598.8,95.2 599.2,99 599.6,96.5 600,99.7 600.4,100.6 600.8,107.8 601.2,98.7 601.6,101.4 602,101.7 602.4,104 602.8,106.3 603.2,102.2 603.6,101.7 604,99.7 604.4,102.3 604.8,107.1 605.2,106.1 605.6,103.4 606,105.7 606.4,107.2 606.8,108.8 607.2,105.7 607.6,106.9 608,102.4 608.4,104.5 608.8,113 609.2,101.8 609.6,107.5 610,109.3 610.4,107.7 610.8,106.6 611.2,109 611.6,109.3 612,109.3 612.4,104.1 612.8,109.4 613.2,107.5 613.6,108.6 614,111.1 614.4,112.5 614.8,113.4 615.2,109.4 615.6,113.8 616,114.8 616.4,114.8 616.8,115.8 617.2,111.3 617.6,111.4 618,114.6 618.4,108.2 618.8,113.1 619.2,111 619.6,111.7 620,107.7 620.4,110.3 620.8,112.9 621.2,115.7 621.6,116 622,112.8 622.4,112.5 622.8,110.7 623.2,114.4 623.6,112.5 624,115 624.4,118.5 624.8,113.2 625.2,108.8 625.6,110.7 626,109 626.4,109.8 626.8,117.3 627.2,114.1 627.6,108.9 628,115.4 628.4,117.3 628.8,112.5 629.2,111.5 629.6,112.6 630,114.5 630.4,115.6 630.8,117.2 631.2,117.3 631.6,117.3 632,117.8 632.4,115.8 632.8,109.2 633.2,113.4 633.6,114.8 634,112.7 634.4,116.6 634.8,112.9 635.2,111.2 635.6,118.3 636,116 636.4,114.7 636.8,116.8 637.2,117.3 637.6,115.1 638,106.8 638.4,112.1 638.8,112.8 639.2,111.3 639.6,114.8 640,117.9 640.4,112.8 640.8,110.9 641.2,120.4 641.6,113 642,110.7 642.4,115.1 642.8,115.7 643.2,112.4 643.6,116.9 644,113.1 644.4,111.8 644.8,115.1 645.2,116.9 645.6,112.7 646,115.7 646.4,114.4 646.8,123.2 647.2,112.6 647.6,118.9 648,114.6 648.4,114.4 648.8,117 649.2,117.6 649.6,118.7 650,115.9 650.4,113.1 650.8,113.3 651.2,116.4 651.6,116.6 652,119 652.4,116 652.8,117.9 653.2,119.3 653.6,115.2 654,110.2 654.4,111.1 654.8,110.3 655.2,119.4 655.6,112.1 656,118.3 656.4,116.3 656.8,119.7 657.2,117.5 657.6,114.2 658,113.8 658.4,114.7 658.8,114.9 659.2,112.8 659.6,114.2 660,119.2 660.4,109.2 660.8,115 661.2,111.5 661.6,114.8 662,116.7 662.4,114 662.8,116.5 663.2,109.4 663.6,117.4 664,112.3 664.4,115.9 664.8,114.6 665.2,106.2 665.6,111.7 666,114.6 666.4,118.6 666.8,114.8 667.2,114.7 667.6,109.6 668,118.1 668.4,119.2 668.8,113.9 669.2,113.1 669.6,108.9 670,116.4 670.4,121.8 670.8,115.8 671.2,117.4 671.6,115.2 672,110.6 672.4,117.6 672.8,109.8 673.2,112.9 673.6,114.3 674,116.1 674.4,114.7 674.8,114.6 675.2,111.1 675.6,109.5 676,113.5 676.4,111.2 676.8,109.4 677.2,109.5 677.6,111.8 678,107.7 678.4,109.1 678.8,108.3 679.2,113.7 679.6,114.3 680,119.1 680.4,108.6 680.8,111 681.2,115.7 681.6,112.3 682,112 682.4,118.1 682.8,111.9 683.2,109.4 683.6,108.9 684,113.8 684.4,113.7 684.8,108.7 685.2,109.8 685.6,114.3 686,114.4 686.4,110.8 686.8,114.5 687.2,114.3 687.6,107.3 688,111.6 688.4,113.8 688.8,110.8 689.2,106.1 689.6,111.6 690,114.7 690.4,117.2 690.8,105.8 691.2,120.2 691.6,109 692,115.2 692.4,116 692.8,115.2 693.2,112.7 693.6,108.7 694,114.1 694.4,110 694.8,104.6 695.2,120.6 695.6,114.2 696,117.5 696.4,109.3 696.8,116.4 697.2,116.8 697.6,116.6 698,111.9 698.4,108.3 698.8,111.4 699.2,105.3 699.6,106.7 700,112.1 700.4,108.8 700.8,111.2 701.2,111.3 701.6,117.4 702,115.4 702.4,111.3 702.8,115 703.2,109 703.6,110.3 704,113.9 704.4,107.4 704.8,110.3 705.2,107.1 705.6,111.3 706,115.8 706.4,108.6 706.8,111.5 707.2,108 707.6,107.2 708,106.9 708.4,114.9 708.8,117.6 709.2,111.9 709.6,108.2 710,112.4 710.4,109.3 710.8,112.6 711.2,111 711.6,110.9 712,111.8 712.4,108.2 712.8,108.7 713.2,104.7 713.6,108.4 714,105.4 714.4,109.2 714.8,106.6 715.2,109.7 715.6,110.7 716,105 716.4,106.7 716.8,106.2 717.2,111.2 717.6,114 718,111.3 718.4,107.6 718.8,112.9 719.2,103.9 719.6,112.9 720,106.3 720.4,99.8 720.8,116 721.2,112.7 721.6,104.8 722,108.3 722.4,107 722.8,107.9 723.2,103 723.6,105.3 724,108.7 724.4,107.8 724.8,110.7 725.2,107.2 725.6,113.9 726,104.6 726.4,107.5 726.8,100.8 727.2,102.7 727.6,110.4 728,103.4 728.4,107.8 728.8,105.9 729.2,102.8 729.6,104.8 730,104.2 730.4,104.2 730.8,107.8 731.2,107.4 731.6,103.6 732,102.5 732.4,106 732.8,104.7 733.2,108 733.6,112.8 734,107.2 734.4,104.5 734.8,104 735.2,101.8 735.6,101.6 736,101.2 736.4,102.9 736.8,102.7 737.2,106.1 737.6,102.5 738,103 738.4,99.9 738.8,108.3 739.2,104.8 739.6,108.5 740,105.4 740.4,107.3 740.8,101.9 741.2,104.7 741.6,110.4 742,98.5 742.4,105.5 742.8,106.8 743.2,102.8 743.6,103.7 744,105 744.4,99 744.8,102 745.2,97.9 745.6,98.3 746,98.3 746.4,99.5 746.8,100.2 747.2,100.9 747.6,95 748,105.2 748.4,102.5 748.8,100.9 749.2,97.4 749.6,98 750,99.7 750.4,99 750.8,92.4 751.2,99.6 751.6,106 752,91.1 752.4,99.6 752.8,97.4 753.2,95.6 753.6,99.9 754,91.8 754.4,95.6 754.8,99.4 755.2,94.1 755.6,93.3 756,94.9 756.4,93.1 756.8,99.1 757.2,91.4 757.6,96.8 758,90.1 758.4,95.8 758.8,93.2 759.2,85.4 759.6,93 760,89.5 760.4,91 760.8,96.8 761.2,88.1 761.6,87.8 762,94.9 762.4,90.1 762.8,93.7 763.2,89.1 763.6,84.3 764,85.6 764.4,88.1 764.8,85.5 765.2,80.6 765.6,78.3 766,74.8 766.4,69.8 766.8,73.1 767.2,61.7 767.6,51.1 768,44.1 768.4,35.8 768.8,20 769.2,20 769.6,20 770,20 770.4,20 770.8,20 771.2,20 771.6,20 772,20 772.4,20 772.8,20 773.2,20 773.6,20 774,20 774.4,20 774.8,20 775.2,20.7 775.6,33.1 776,48.2 776.4,56.8 776.8,58.5 777.2,69.8 777.6,74.1 778,77.4 778.4,76.9 778.8,83.5 779.2,86.8 779.6,89.2 780,87.1 780.4,94 780.8,89.6 781.2,93.8 781.6,99.5 782,94.2 782.4,95.5 782.8,101 783.2,97.1 783.6,97.9 784,99.9 784.4,102.9 784.8,93.2 785.2,97.8 785.6,97.5 786,97.5 786.4,98.5 786.8,98.8 787.2,102.5 787.6,99 788,102.3 788.4,103.3 788.8,100 789.2,102.7 789.6,107.5 790,103.6 790.4,100.7 790.8,102.6 791.2,100.1 791.6,103.8 792,105.7 792.4,100.6 792.8,102.5 793.2,106.6 793.6,101.8 794,103.9 794.4,100.2 794.8,100.9 795.2,101.9 795.6,110 796,102.3 796.4,102 796.8,101.9 797.2,103.1 797.6,105.6 798,104.3 798.4,109.9 798.8,104.4 799.2,108.1 799.6,104.6 800,105.6 800.4,99.6 800.8,103.7 801.2,104 801.6,103.6 802,98.1 802.4,107.3 802.8,103.7 803.2,103.7 803.6,104.3 804,104.6 804.4,106.6 804.8,101.7 805.2,102.9 805.6,106.7 806,106.4 806.4,105 806.8,104.5 807.2,103.9 807.6,106.3 808,110.2 808.4,103.6 808.8,111.5 809.2,109.6 809.6,105.8 810,109.7 810.4,103.1 810.8,102.4 811.2,103.9 811.6,106.6 812,107 812.4,106.6 812.8,108.6 813.2,102 813.6,110 814,104.4 814.4,106.8 814.8,107.7 815.2,105.6 815.6,105.1 816,106.3 816.4,109.4 816.8,111.3 817.2,111.4 817.6,106.8 818,107.6 818.4,107.3 818.8,111.5 819.2,104.2 819.6,114.2 820,109.1 820.4,108.3 820.8,111.7 821.2,113.9 821.6,111.9 822,114.1 822.4,111.4 822.8,114.8 823.2,114.9 823.6,110.9 824,115.6 824.4,111.8 824.8,111.7 825.2,108.7 825.6,110.7 826,113.9 826.4,107.7 826.8,113.7 827.2,112.9 827.6,112.7 828,105.3 828.4,111.7 828.8,114 829.2,109.9 829.6,112.5 830,105.2 830.4,114.4 830.8,110.4 831.2,115.1 831.6,107 832,114.7 832.4,112 832.8,115.2 833.2,110 833.6,111 834,119.7 834.4,110.5 834.8,111 835.2,112.3 835.6,110.2 836,116.9 836.4,118.5 836.8,111.3 837.2,108.3 837.6,117.1 838,116.9 838.4,116.1 838.8,117.2 839.2,111 839.6,113 840,109.3 840.4,109 840.8,116.1 841.2,111 841.6,119.7 842,112.9 842.4,110.6 842.8,114.8 843.2,117.6 843.6,113.5 844,108.3 844.4,112.9 844.8,115.8 845.2,110 845.6,109 846,114.2 846.4,111.5 846.8,107.6 847.2,109.6 847.6,108.3 848,111.3 848.4,110.6 848.8,113.6 849.2,112.1 849.6,105.2 850,110.9 850.4,112.3 850.8,110.8 851.2,112.4 851.6,107.5 852,106.1 852.4,111.6 852.8,105.5 853.2,102 853.6,111.5 854,106.1 854.4,107.1 854.8,103.7 855.2,103.6 855.6,103.7 856,105.7 856.4,107.4 856.8,99 857.2,107.7 857.6,101.5 858,101.4 858.4,106.2 858.8,103.5 859.2,98.7 859.6,108.4 860,99.8 860.4,102.7 860.8,102.1 861.2,105.3 861.6,99.3 862,103.3 862.4,97.6 862.8,102.7 863.2,96.6 863.6,97.4 864,103.8 864.4,98.6 864.8,97.5 865.2,103.5 865.6,97.4 866,93.6 866.4,98 866.8,92.1 867.2,98.8 867.6,98.9 868,93.4 868.4,93.1 868.8,95.4 869.2,94.7 869.6,91.6 870,96.1 870.4,88.1 870.8,92.8 871.2,92.7 871.6,93 872,94.6 872.4,89.8 872.8,95.1 873.2,92.7 873.6,91.1 874,88.9 874.4,89.5 874.8,94.3 875.2,90.5 875.6,93.7 876,96.8 876.4,96.9 876.8,98.6 877.2,93.2 877.6,91 878,97.4 878.4,95.4 878.8,98 879.2,94.8 879.6,98.5 880,97.6 880.4,97.4 880.8,96.9 881.2,96.7 881.6,96.4 882,96.5 882.4,98.9 882.8,94.6 883.2,101.5 883.6,96.1 884,99.5 884.4,96.4 884.8,96.1 885.2,103.1 885.6,96.3 886,93.6 886.4,95.5 886.8,96.9 887.2,104.5 887.6,98.8 888,101.2 888.4,95.6 888.8,99.9 889.2,101 889.6,104.6 890,97.3 890.4,101.4 890.8,100.7 891.2,97 891.6,100.2 892,99.6 892.4,93.7 892.8,102.6 893.2,102.7 893.6,99.9 894,97.4 894.4,106.1 894.8,102.6 895.2,105.1 895.6,106.4 896,100.8 896.4,104.9 896.8,101.9 897.2,102.6 897.6,102.7 898,103.1 898.4,106.6 898.8,103.8 899.2,103.2 899.6,103 900,105 900.4,101.4 900.8,102.8 901.2,104.3 901.6,102.9 902,104.4 902.4,103.1 902.8,111.1 903.2,109.2 903.6,106.7 904,105.4 904.4,112.3 904.8,106.8 905.2,105.6" fill="none" stroke="#22ee22" stroke-width="1.1" stroke-linejoin="round"/>
<polyline points="522,163.8 522.4,163.7 522.8,166.9 523.2,162.4 523.6,168.6 524,159.4 524.4,164 524.8,158.7 525.2,167 525.6,160.4 526,161 526.4,163.8 526.8,164.6 527.2,157.3 527.6,159.5 528,156.1 528.4,160.6 528.8,159.7 529.2,158.7 529.6,157.6 530,158.3 530.4,157 530.8,160.7 531.2,163.4 531.6,152.9 532,158.2 532.4,157.1 532.8,159.7 533.2,155.1 533.6,157.4 534,154.5 534.4,159.6 534.8,157.6 535.2,156.6 535.6,158 536,156 536.4,151.9 536.8,158.2 537.2,157.1 537.6,155.6 538,158.8 538.4,159.3 538.8,152.2 539.2,153 539.6,159.8 540,159.2 540.4,152.5 540.8,150.9 541.2,152.3 541.6,152.4 542,148.9 542.4,153.5 542.8,149.3 543.2,149.2 543.6,155.3 544,150.3 544.4,151.8 544.8,153.7 545.2,154 545.6,150.2 546,151.1 546.4,148.2 546.8,155.7 547.2,152.1 547.6,146.6 548,149.7 548.4,151.5 548.8,150.6 549.2,154.3 549.6,152.7 550,146.7 550.4,147.8 550.8,143.9 551.2,148.3 551.6,147.7 552,155.1 552.4,147 552.8,140.2 553.2,144.2 553.6,146.2 554,141.9 554.4,142.8 554.8,144 555.2,145.8 555.6,143.9 556,141.3 556.4,145.9 556.8,141.6 557.2,141.3 557.6,138.2 558,139.6 558.4,143.5 558.8,136.3 559.2,140.6 559.6,142.5 560,138.8 560.4,140.3 560.8,135.8 561.2,142.7 561.6,141.7 562,138.7 562.4,132.3 562.8,134 563.2,139.7 563.6,141.5 564,136.9 564.4,139.3 564.8,133.4 565.2,134.2 565.6,134.4 566,135.2 566.4,129 566.8,136 567.2,136.7 567.6,128.9 568,127.9 568.4,132.6 568.8,129.2 569.2,123.7 569.6,132.8 570,130.5 570.4,128.2 570.8,135.6 571.2,129.3 571.6,126.3 572,128.5 572.4,124.7 572.8,125.2 573.2,128.3 573.6,125.1 574,125 574.4,131 574.8,128.2 575.2,127.7 575.6,126.5 576,126 576.4,128.6 576.8,123.8 577.2,129.1 577.6,120.3 578,122 578.4,118.3 578.8,121 579.2,123.3 579.6,125.8 580,119.3 580.4,121.3 580.8,120.5 581.2,119.6 581.6,118.5 582,122.6 582.4,117.5 582.8,123.3 583.2,123.3 583.6,121.5 584,120.7 584.4,119.9 584.8,129.9 585.2,120.6 585.6,129.6 586,127 586.4,124.4 586.8,122.3 587.2,129.1 587.6,131.5 588,123.8 588.4,126 588.8,130.3 589.2,128.4 589.6,133.7 590,126.3 590.4,130 590.8,125.1 591.2,135.5 591.6,127.4 592,123.4 592.4,130.1 592.8,130.5 593.2,137.1 593.6,130.7 594,132.1 594.4,134.3 594.8,137.7 595.2,133.2 595.6,136.9 596,135.8 596.4,133.8 596.8,135.3 597.2,135.6 597.6,133.2 598,140 598.4,132.6 598.8,140.7 599.2,140.4 599.6,137.7 600,136.1 600.4,138.1 600.8,140.7 601.2,141.9 601.6,140.9 602,143.5 602.4,139.2 602.8,142 603.2,137 603.6,144.4 604,143 604.4,141.7 604.8,146.9 605.2,145.9 605.6,135.8 606,144.8 606.4,140.7 606.8,148.7 607.2,153.4 607.6,144.8 608,147 608.4,146.4 608.8,148.6 609.2,149.9 609.6,152.3 610,145.9 610.4,154 610.8,146.9 611.2,150.9 611.6,154 612,153.1 612.4,148.5 612.8,149.6 613.2,150.5 613.6,151.9 614,155.6 614.4,148.3 614.8,153.7 615.2,154.2 615.6,154.1 616,153.9 616.4,157.1 616.8,154.1 617.2,155.3 617.6,154.5 618,158.3 618.4,147.3 618.8,156.9 619.2,152.3 619.6,152.3 620,150.3 620.4,147.7 620.8,152.3 621.2,151.4 621.6,155 622,149.2 622.4,158 622.8,154.6 623.2,153.1 623.6,151.8 624,151.6 624.4,150.7 624.8,152.5 625.2,154.2 625.6,153.8 626,150.1 626.4,153.6 626.8,151.8 627.2,155.1 627.6,160.3 628,156.6 628.4,153.9 628.8,150 629.2,150.7 629.6,150 630,157.3 630.4,152.9 630.8,155.4 631.2,153.5 631.6,155.7 632,159.7 632.4,153.5 632.8,154.6 633.2,153.3 633.6,158.4 634,152.8 634.4,152.5 634.8,151.8 635.2,151.8 635.6,157.5 636,163.9 636.4,153.3 636.8,159.2 637.2,157.2 637.6,153.2 638,155.7 638.4,156 638.8,154.7 639.2,162.6 639.6,151.1 640,158.1 640.4,157.9 640.8,155.2 641.2,157.4 641.6,159.6 642,157.5 642.4,158.3 642.8,159.1 643.2,150.9 643.6,161.5 644,163.9 644.4,160 644.8,160.1 645.2,152.9 645.6,156.8 646,154.7 646.4,155.4 646.8,160.1 647.2,154.8 647.6,156.8 648,151.5 648.4,156.7 648.8,157.5 649.2,155.1 649.6,155.1 650,162.9 650.4,153.6 650.8,154.1 651.2,154.9 651.6,160.9 652,163.6 652.4,158.3 652.8,155.2 653.2,156.1 653.6,160.6 654,154.6 654.4,161.8 654.8,161.7 655.2,157.6 655.6,159.4 656,159.7 656.4,162.1 656.8,154.3 657.2,161 657.6,156.4 658,155.2 658.4,157.8 658.8,156.9 659.2,154.6 659.6,152.8 660,154.7 660.4,161.9 660.8,163.5 661.2,159.6 661.6,161.2 662,156.1 662.4,157.4 662.8,158.5 663.2,154.4 663.6,154.7 664,158 664.4,156.7 664.8,154.5 665.2,158.9 665.6,157 666,160.8 666.4,157.7 666.8,156.9 667.2,158.2 667.6,157.3 668,155.8 668.4,156.6 668.8,160.1 669.2,159.8 669.6,161.7 670,152.8 670.4,156.7 670.8,156.6 671.2,158.4 671.6,156.5 672,156.3 672.4,160.2 672.8,158.3 673.2,154.2 673.6,161.7 674,160.7 674.4,155.9 674.8,160.1 675.2,155.4 675.6,161 676,156.9 676.4,155.1 676.8,156.4 677.2,155.2 677.6,158 678,157.9 678.4,157.5 678.8,155.7 679.2,146.3 679.6,157.6 680,151.6 680.4,158 680.8,160.6 681.2,158 681.6,156 682,156.6 682.4,156.7 682.8,155.4 683.2,155.3 683.6,154.2 684,160.5 684.4,156.9 684.8,159.8 685.2,156.1 685.6,157.1 686,156.3 686.4,158.2 686.8,159.2 687.2,157.5 687.6,154.7 688,154.3 688.4,161.6 688.8,155.8 689.2,155.7 689.6,161 690,159.8 690.4,158.1 690.8,155.3 691.2,163.5 691.6,157.6 692,158 692.4,155.8 692.8,152.1 693.2,152.3 693.6,157.5 694,157.4 694.4,155.5 694.8,152.7 695.2,151.8 695.6,155.1 696,151.7 696.4,158.8 696.8,159.5 697.2,164.5 697.6,158.6 698,154.2 698.4,153.3 698.8,145.5 699.2,154.1 699.6,155.3 700,158.7 700.4,157.6 700.8,157.5 701.2,156.3 701.6,157.7 702,160 702.4,152.4 702.8,154.2 703.2,151.4 703.6,160.4 704,159.4 704.4,157.7 704.8,151.8 705.2,155.9 705.6,154.7 706,155.6 706.4,154.7 706.8,156.8 707.2,154.1 707.6,157.8 708,155.9 708.4,154.3 708.8,154.8 709.2,153.8 709.6,157.5 710,154.2 710.4,155.9 710.8,153.8 711.2,150.5 711.6,157.6 712,151.7 712.4,156.9 712.8,156.1 713.2,149.8 713.6,151.9 714,153.1 714.4,152.2 714.8,151 715.2,156.7 715.6,153.7 716,155.5 716.4,152.9 716.8,155.1 717.2,151.8 717.6,153.9 718,155.6 718.4,154 718.8,152.4 719.2,150.4 719.6,154.1 720,154.5 720.4,152.6 720.8,151 721.2,154.9 721.6,160.6 722,152.2 722.4,154 722.8,154 723.2,145.1 723.6,153.1 724,150.5 724.4,156.7 724.8,151.7 725.2,150.1 725.6,151.7 726,152.7 726.4,150.5 726.8,151.9 727.2,147.9 727.6,151.2 728,154.1 728.4,157.6 728.8,153.8 729.2,152.4 729.6,155 730,154.4 730.4,156.3 730.8,154.4 731.2,150.8 731.6,151.8 732,151.5 732.4,151.8 732.8,151.4 733.2,148.3 733.6,144.3 734,148.5 734.4,144.3 734.8,150.5 735.2,150.2 735.6,145.1 736,152.1 736.4,152.5 736.8,150.1 737.2,154.7 737.6,155.3 738,145.9 738.4,152.6 738.8,150.7 739.2,150.5 739.6,152 740,146.9 740.4,147.1 740.8,146.3 741.2,146.3 741.6,148.1 742,143.9 742.4,145 742.8,149.7 743.2,147.6 743.6,148.8 744,141.8 744.4,144.9 744.8,145.4 745.2,147 745.6,145 746,149.4 746.4,146.2 746.8,146.3 747.2,146.1 747.6,148 748,144.2 748.4,148.8 748.8,146.7 749.2,145.5 749.6,145 750,146.2 750.4,147.5 750.8,147.1 751.2,145.2 751.6,146.4 752,143.9 752.4,147.1 752.8,143 753.2,136.6 753.6,146.6 754,142.7 754.4,138.6 754.8,141.3 755.2,139 755.6,147.8 756,142.9 756.4,136.5 756.8,142.7 757.2,139.7 757.6,146.5 758,137.4 758.4,133.5 758.8,140.2 759.2,138.7 759.6,138.2 760,132.6 760.4,139.9 760.8,143.2 761.2,131.9 761.6,140.6 762,134.7 762.4,142.8 762.8,136.2 763.2,133.4 763.6,136.1 764,133.1 764.4,128.3 764.8,130.4 765.2,124.7 765.6,118.4 766,126.9 766.4,116.1 766.8,110.9 767.2,108.1 767.6,95.4 768,86.9 768.4,77.5 768.8,61.3 769.2,40.7 769.6,20 770,20 770.4,20 770.8,20 771.2,20 771.6,20 772,20 772.4,20 772.8,20 773.2,20 773.6,20 774,20 774.4,20 774.8,43.7 775.2,63.7 775.6,78 776,95.3 776.4,104 776.8,107.3 777.2,118.3 777.6,118.5 778,122.3 778.4,126.7 778.8,126.7 779.2,129.9 779.6,132.6 780,139.3 780.4,140.7 780.8,136.7 781.2,143.4 781.6,139.4 782,141.5 782.4,143.8 782.8,142.7 783.2,149.6 783.6,143.6 784,139.7 784.4,147.7 784.8,142.9 785.2,143.6 785.6,135.8 786,148.1 786.4,147.8 786.8,148 787.2,148.8 787.6,151.1 788,146.1 788.4,149.2 788.8,144.4 789.2,145.7 789.6,150.1 790,148.2 790.4,143.2 790.8,148.4 791.2,146.8 791.6,145 792,148.9 792.4,146.5 792.8,143.1 793.2,144.5 793.6,153.2 794,143.5 794.4,148.7 794.8,150 795.2,150.1 795.6,144.6 796,147.4 796.4,148.8 796.8,150.8 797.2,146.5 797.6,145 798,151.6 798.4,151.9 798.8,149.8 799.2,146.9 799.6,150 800,149.1 800.4,151.4 800.8,145.3 801.2,149.5 801.6,148.8 802,146.1 802.4,150.2 802.8,149.8 803.2,148.6 803.6,151.1 804,145.8 804.4,150 804.8,151.6 805.2,151.3 805.6,153.8 806,147.1 806.4,146.3 806.8,151.6 807.2,152.4 807.6,157.5 808,153.1 808.4,148.7 808.8,153.9 809.2,149.1 809.6,147.3 810,159.7 810.4,152.9 810.8,154.2 811.2,153.9 811.6,157.7 812,153.2 812.4,156.2 812.8,149.5 813.2,148.6 813.6,157.1 814,157.4 814.4,154.6 814.8,153.9 815.2,153.8 815.6,151.3 816,158.1 816.4,155.6 816.8,155.2 817.2,155 817.6,157.1 818,155.6 818.4,156.4 818.8,150.8 819.2,155.9 819.6,161 820,153 820.4,154.2 820.8,157.4 821.2,157.6 821.6,156.7 822,150 822.4,156.4 822.8,151.4 823.2,152.6 823.6,156.8 824,154.3 824.4,157.7 824.8,164.7 825.2,157.7 825.6,157.6 826,152.8 826.4,153.6 826.8,152.4 827.2,154 827.6,152.4 828,153.8 828.4,155.2 828.8,152.8 829.2,151.6 829.6,151.9 830,157.4 830.4,156.3 830.8,159.2 831.2,159.3 831.6,155.2 832,158.3 832.4,152 832.8,163.3 833.2,160 833.6,155.9 834,153.1 834.4,157.8 834.8,151.1 835.2,154.4 835.6,159 836,157.1 836.4,155.4 836.8,159.8 837.2,153.9 837.6,157.9 838,155.6 838.4,154.6 838.8,158.6 839.2,154.3 839.6,163.1 840,155.6 840.4,163.4 840.8,154.2 841.2,159.4 841.6,154 842,153.6 842.4,158.2 842.8,159.7 843.2,153.8 843.6,161 844,154.8 844.4,157.4 844.8,157.9 845.2,158.3 845.6,150.9 846,160.9 846.4,157.5 846.8,154.3 847.2,152.3 847.6,150 848,150.8 848.4,156.3 848.8,153.4 849.2,150.8 849.6,152.4 850,158.4 850.4,152.5 850.8,151.5 851.2,157.1 851.6,154.2 852,152.7 852.4,150.5 852.8,147.4 853.2,148.3 853.6,150.2 854,150.7 854.4,152.2 854.8,152.6 855.2,151.4 855.6,151.1 856,147.2 856.4,143.5 856.8,148.2 857.2,146.7 857.6,147.3 858,148.2 858.4,145.1 858.8,145.2 859.2,148 859.6,148.4 860,145.9 860.4,149 860.8,146.6 861.2,143.8 861.6,146.7 862,151.9 862.4,143.9 862.8,149 863.2,149.4 863.6,149.4 864,142.1 864.4,150.3 864.8,144.2 865.2,142.8 865.6,142.5 866,144.7 866.4,142.7 866.8,141.7 867.2,145.7 867.6,139.4 868,138.1 868.4,143.3 868.8,142.7 869.2,143.5 869.6,136.7 870,142.8 870.4,140.7 870.8,144.2 871.2,134.8 871.6,138.9 872,137.2 872.4,133.1 872.8,135.6 873.2,141 873.6,136.1 874,135.2 874.4,139.9 874.8,140.2 875.2,140.1 875.6,134.6 876,136.7 876.4,139.9 876.8,134.7 877.2,134.4 877.6,139 878,141.1 878.4,132.9 878.8,128.4 879.2,131.8 879.6,133 880,135.7 880.4,138 880.8,136 881.2,134.5 881.6,137.3 882,134.2 882.4,137.2 882.8,135.7 883.2,145.9 883.6,140.5 884,135.8 884.4,135.6 884.8,137.5 885.2,134.1 885.6,137.1 886,137.3 886.4,142.4 886.8,138.7 887.2,137.9 887.6,136.5 888,137.2 888.4,140.8 888.8,140.6 889.2,144.9 889.6,139.8 890,145.1 890.4,142.9 890.8,142.4 891.2,136.6 891.6,139 892,145.4 892.4,147.6 892.8,144.2 893.2,146.1 893.6,142.9 894,143.2 894.4,142.6 894.8,147.7 895.2,146.1 895.6,144.6 896,144.6 896.4,147.4 896.8,147 897.2,143.8 897.6,151.6 898,147.5 898.4,147 898.8,151.7 899.2,150.5 899.6,147.4 900,149.5 900.4,145 900.8,146.5 901.2,141.9 901.6,152.6 902,143.4 902.4,151.4 902.8,147.1 903.2,146.9 903.6,149.5 904,151.1 904.4,152.4 904.8,156.1 905.2,152" fill="none" stroke="#2222dd" stroke-width="1.1" stroke-linejoin="round"/>
<polyline points="522,213.6 522.4,209.1 522.8,212.9 523.2,211.1 523.6,209.1 524,210.1 524.4,210.1 524.8,210.7 525.2,211.2 525.6,208.3 526,207.5 526.4,211.9 526.8,204.4 527.2,207.5 527.6,213.9 528,201 528.4,206.9 528.8,211 529.2,203.8 529.6,216.4 530,200.8 530.4,212.7 530.8,212.9 531.2,210.9 531.6,207.4 532,209 532.4,205.1 532.8,210.1 533.2,204.2 533.6,206.6 534,210.3 534.4,203.8 534.8,205.9 535.2,207.3 535.6,202.6 536,209.9 536.4,207.3 536.8,201.5 537.2,205.7 537.6,203.3 538,203.4 538.4,205.4 538.8,202.8 539.2,207.6 539.6,202.4 540,207.2 540.4,203.9 540.8,206.4 541.2,202 541.6,201.9 542,199.8 542.4,204.7 542.8,205.6 543.2,208.9 543.6,206.2 544,202.9 544.4,201.3 544.8,202.9 545.2,201.4 545.6,205.7 546,203.9 546.4,198.3 546.8,198.6 547.2,204.5 547.6,201.1 548,199.1 548.4,202.8 548.8,197.4 549.2,197.1 549.6,195.9 550,190.7 550.4,198.5 550.8,191.6 551.2,192.8 551.6,191.6 552,195.3 552.4,192.2 552.8,191.8 553.2,186 553.6,190.1 554,185.3 554.4,189.8 554.8,189 555.2,186.4 555.6,190.7 556,184 556.4,182.1 556.8,178.5 557.2,175.3 557.6,176.6 558,174.8 558.4,165.6 558.8,171.1 559.2,168.9 559.6,170.5 560,169.8 560.4,165.6 560.8,166.8 561.2,176.7 561.6,173 562,168.9 562.4,175.2 562.8,174 563.2,170.5 563.6,170 564,172.5 564.4,178.1 564.8,176.7 565.2,175.6 565.6,176.7 566,177.1 566.4,168.5 566.8,173.3 567.2,171.2 567.6,169.5 568,171 568.4,171.7 568.8,170.8 569.2,166.7 569.6,169.1 570,176.1 570.4,166.5 570.8,164.2 571.2,169.7 571.6,170.3 572,169.6 572.4,164.5 572.8,170.4 573.2,164.7 573.6,163.3 574,164.5 574.4,165.7 574.8,167.8 575.2,167.2 575.6,164.9 576,167.4 576.4,164.5 576.8,166.5 577.2,159.3 577.6,158.4 578,165.1 578.4,158.2 578.8,161.2 579.2,161.4 579.6,159.9 580,159.9 580.4,165.5 580.8,154 581.2,164.5 581.6,169 582,162.4 582.4,162.6 582.8,165.1 583.2,168.7 583.6,159.9 584,164 584.4,163.5 584.8,166 585.2,165.1 585.6,166.9 586,163.9 586.4,165.6 586.8,163.7 587.2,164 587.6,165.9 588,166.1 588.4,163.3 588.8,171.8 589.2,167 589.6,163.6 590,171.4 590.4,166.2 590.8,170.5 591.2,169.4 591.6,170.6 592,170.9 592.4,169.1 592.8,171.5 593.2,177.9 593.6,165.6 594,173 594.4,174.6 594.8,170.6 595.2,170.1 595.6,181.2 596,174.1 596.4,181.9 596.8,177.7 597.2,176.8 597.6,178.5 598,179.5 598.4,181.6 598.8,179.8 599.2,179.4 599.6,180 600,184.1 600.4,183 600.8,178.2 601.2,179.9 601.6,183.4 602,181.1 602.4,182.4 602.8,181.3 603.2,184 603.6,186.6 604,189 604.4,186.6 604.8,193.4 605.2,187.5 605.6,197.9 606,192 606.4,191.1 606.8,188.7 607.2,182.3 607.6,190.9 608,192.5 608.4,198.3 608.8,189 609.2,199.5 609.6,193.6 610,196.9 610.4,187.4 610.8,195.6 611.2,194.3 611.6,197.5 612,195.8 612.4,192.3 612.8,198.6 613.2,198 613.6,197.8 614,199.2 614.4,199.6 614.8,196.3 615.2,192.4 615.6,192.5 616,200.8 616.4,199 616.8,197.3 617.2,195.8 617.6,197.3 618,197.4 618.4,196.5 618.8,195.5 619.2,204.2 619.6,198.5 620,196.1 620.4,194.2 620.8,196 621.2,200.5 621.6,200.7 622,197.9 622.4,198.8 622.8,197.9 623.2,195.6 623.6,202.9 624,200.3 624.4,206.7 624.8,197.1 625.2,199.1 625.6,202.3 626,199 626.4,195.7 626.8,197.1 627.2,200.4 627.6,201.3 628,200.1 628.4,203.5 628.8,203.6 629.2,201.7 629.6,200.9 630,200.2 630.4,202.6 630.8,203.8 631.2,201.2 631.6,202.4 632,200.1 632.4,196.9 632.8,198.2 633.2,203.5 633.6,202.6 634,206 634.4,201.5 634.8,203.9 635.2,205.3 635.6,204.4 636,199.6 636.4,200.9 636.8,201.9 637.2,198.6 637.6,203 638,204.7 638.4,200.2 638.8,207.6 639.2,200.8 639.6,201.1 640,201 640.4,199.7 640.8,203.1 641.2,201.9 641.6,206.9 642,203.7 642.4,203.5 642.8,201.3 643.2,197.8 643.6,201.8 644,199.5 644.4,204.9 644.8,202 645.2,207.2 645.6,204.4 646,204.7 646.4,202.9 646.8,202.9 647.2,204.3 647.6,205.1 648,200.2 648.4,203.9 648.8,210.3 649.2,202.2 649.6,201.7 650,200.5 650.4,198.2 650.8,206.2 651.2,202.8 651.6,203.6 652,208.2 652.4,210.3 652.8,200.1 653.2,206 653.6,204.7 654,204 654.4,204.3 654.8,202.8 655.2,207.7 655.6,204.8 656,203.9 656.4,206.6 656.8,205.6 657.2,204.3 657.6,203.8 658,208.1 658.4,204.4 658.8,202.6 659.2,200.2 659.6,201.8 660,199.6 660.4,203.1 660.8,203.5 661.2,196.6 661.6,202.8 662,204.7 662.4,203.2 662.8,199.8 663.2,206.5 663.6,200.6 664,199 664.4,199.4 664.8,202.6 665.2,205.6 665.6,206.1 666,203.2 666.4,199 666.8,200.6 667.2,199.9 667.6,202 668,197.2 668.4,202.9 668.8,204.5 669.2,202.1 669.6,203.9 670,199.7 670.4,198.1 670.8,200.5 671.2,205.9 671.6,205.5 672,201 672.4,206 672.8,201.4 673.2,206.9 673.6,203.8 674,201 674.4,204.7 674.8,200 675.2,199.5 675.6,198 676,203.1 676.4,202.1 676.8,202 677.2,201 677.6,206.6 678,201 678.4,200.1 678.8,205.9 679.2,206.5 679.6,203.2 680,197 680.4,200.4 680.8,204 681.2,202.2 681.6,206.8 682,198 682.4,204.1 682.8,200.2 683.2,206 683.6,201.8 684,205.1 684.4,200.1 684.8,197.8 685.2,198.7 685.6,200.2 686,198.9 686.4,205.6 686.8,206 687.2,202.8 687.6,198.8 688,201.6 688.4,199.8 688.8,206.3 689.2,202.8 689.6,203.3 690,200.7 690.4,195.8 690.8,199.5 691.2,198.5 691.6,203 692,202.1 692.4,199.4 692.8,200.7 693.2,206.5 693.6,199 694,199.1 694.4,201.2 694.8,199.7 695.2,200.5 695.6,203.4 696,207 696.4,196.5 696.8,201.8 697.2,202 697.6,201.6 698,201.3 698.4,200.8 698.8,204.8 699.2,200.4 699.6,201.4 700,201.8 700.4,202.1 700.8,201.3 701.2,204.8 701.6,201.8 702,202.3 702.4,201.6 702.8,198.8 703.2,199.3 703.6,198.6 704,202.4 704.4,199.6 704.8,198.6 705.2,202.5 705.6,203.4 706,196.5 706.4,206.8 706.8,201.9 707.2,201.5 707.6,205 708,202 708.4,199.9 708.8,208.3 709.2,198.5 709.6,201.4 710,204.2 710.4,198.2 710.8,200.9 711.2,202.1 711.6,207.9 712,197.7 712.4,200 712.8,201.8 713.2,199.8 713.6,195.7 714,200.3 714.4,199.1 714.8,199.8 715.2,201.6 715.6,201 716,198.9 716.4,198.4 716.8,193.9 717.2,196.5 717.6,197.3 718,195.1 718.4,196.4 718.8,193.3 719.2,200.1 719.6,201.7 720,193.8 720.4,195.9 720.8,193.7 721.2,197.9 721.6,195.2 722,193.8 722.4,192.7 722.8,193.4 723.2,189.8 723.6,194.5 724,190.1 724.4,193.6 724.8,192 725.2,194.5 725.6,190.7 726,193.4 726.4,187 726.8,191.1 727.2,188.1 727.6,188.8 728,188 728.4,190 728.8,180.7 729.2,187.2 729.6,181.2 730,188.8 730.4,178.8 730.8,181.2 731.2,178.6 731.6,188.1 732,178.8 732.4,182.5 732.8,180.3 733.2,176.6 733.6,181.3 734,184.9 734.4,182.9 734.8,186.9 735.2,183.6 735.6,185.3 736,184.7 736.4,187.5 736.8,192.8 737.2,188.8 737.6,188.9 738,187 738.4,187.2 738.8,194.5 739.2,187.3 739.6,188.5 740,191.6 740.4,191.2 740.8,198.9 741.2,186.6 741.6,195.3 742,197 742.4,192.1 742.8,194.1 743.2,197.9 743.6,202 744,194.6 744.4,192.5 744.8,199.9 745.2,201.1 745.6,195.2 746,189.1 746.4,199.7 746.8,194.3 747.2,197.9 747.6,194 748,192.6 748.4,191.9 748.8,197.3 749.2,196.7 749.6,185.6 750,188.7 750.4,196.4 750.8,189.6 751.2,186.1 751.6,189.8 752,189 752.4,188.6 752.8,186.9 753.2,187 753.6,186.1 754,187.9 754.4,184 754.8,185.1 755.2,185.1 755.6,189.1 756,185.9 756.4,184.1 756.8,185.7 757.2,184.9 757.6,186.5 758,184.3 758.4,187.7 758.8,185.9 759.2,181.2 759.6,179.5 760,182.8 760.4,181.1 760.8,178.6 761.2,173.7 761.6,171.8 762,177.5 762.4,177.9 762.8,177 763.2,169.7 763.6,175.4 764,169.3 764.4,170.4 764.8,168.6 765.2,162.7 765.6,160.7 766,153.2 766.4,152.9 766.8,145.6 767.2,146.6 767.6,138.3 768,131.6 768.4,117.8 768.8,98.5 769.2,79 769.6,44.8 770,20 770.4,20 770.8,20 771.2,20 771.6,20 772,20 772.4,20 772.8,20 773.2,20 773.6,20 774,20 774.4,44.9 774.8,75.8 775.2,93 775.6,116.5 776,129.4 776.4,134.6 776.8,142.7 777.2,146.6 777.6,156.2 778,153 778.4,159.6 778.8,168.9 779.2,165.3 779.6,168.3 780,168 780.4,166.2 780.8,170.8 781.2,173.1 781.6,169.7 782,174.6 782.4,178.2 782.8,178.6 783.2,171.5 783.6,174.1 784,172.9 784.4,181.7 784.8,181 785.2,181.9 785.6,177.7 786,177.4 786.4,181.7 786.8,182.3 787.2,180 787.6,183.5 788,185.5 788.4,184.7 788.8,181.3 789.2,178.5 789.6,184.5 790,186.2 790.4,185.4 790.8,185.3 791.2,184.9 791.6,189.5 792,187.6 792.4,188.5 792.8,185.6 793.2,187 793.6,189.7 794,186.6 794.4,186.2 794.8,189.3 795.2,194.2 795.6,191.5 796,195.6 796.4,191.1 796.8,190.8 797.2,187.8 797.6,190.5 798,196.7 798.4,193.6 798.8,195 799.2,195.1 799.6,193.2 800,192.8 800.4,194 800.8,195.8 801.2,195.4 801.6,195.7 802,194.9 802.4,192.3 802.8,194 803.2,192.2 803.6,198.2 804,189.1 804.4,194.9 804.8,202.9 805.2,194.9 805.6,192.7 806,196.3 806.4,200.4 806.8,196.2 807.2,198.7 807.6,197.4 808,196.1 808.4,206.9 808.8,197.8 809.2,196.2 809.6,196.5 810,199.3 810.4,199.6 810.8,200.8 811.2,199.1 811.6,194.6 812,200.7 812.4,198.3 812.8,198.6 813.2,195.1 813.6,198.1 814,197.8 814.4,200 814.8,195.9 815.2,200.6 815.6,201 816,197.5 816.4,199.1 816.8,198.6 817.2,204.1 817.6,193.9 818,200.7 818.4,196.9 818.8,200.8 819.2,204.8 819.6,200.5 820,203 820.4,200.1 820.8,208.6 821.2,205.6 821.6,206.3 822,199 822.4,199.8 822.8,206.5 823.2,202.7 823.6,202.6 824,204.5 824.4,199.8 824.8,206 825.2,203.8 825.6,205.3 826,201.9 826.4,205.6 826.8,202 827.2,207.1 827.6,207.7 828,207.1 828.4,206 828.8,206.5 829.2,196.5 829.6,207.2 830,204 830.4,205.2 830.8,204.1 831.2,200.9 831.6,203.6 832,207.2 832.4,209.6 832.8,203.6 833.2,202.8 833.6,210 834,203 834.4,212 834.8,206 835.2,203.3 835.6,209 836,211.2 836.4,201.9 836.8,211 837.2,205.5 837.6,210.9 838,205.4 838.4,201.9 838.8,208.2 839.2,209.4 839.6,212.7 840,211.4 840.4,208.1 840.8,205.1 841.2,204 841.6,204.5 842,202.6 842.4,204.1 842.8,197 843.2,205 843.6,204.1 844,211.7 844.4,206.1 844.8,202.1 845.2,205 845.6,199.4 846,201.1 846.4,197.1 846.8,206.7 847.2,204 847.6,198.5 848,201.6 848.4,204.4 848.8,202.8 849.2,202.2 849.6,198.3 850,198.7 850.4,200.7 850.8,203 851.2,197.5 851.6,196.4 852,203 852.4,196.5 852.8,202.3 853.2,199.6 853.6,201.3 854,203.6 854.4,200.2 854.8,200.2 855.2,194.8 855.6,195.1 856,198.7 856.4,200.9 856.8,200.1 857.2,202.4 857.6,196 858,195.2 858.4,197.2 858.8,193.8 859.2,193.1 859.6,189.7 860,195.4 860.4,188.8 860.8,193.1 861.2,186.9 861.6,194 862,187.2 862.4,192.3 862.8,184.6 863.2,187.6 863.6,192 864,185.7 864.4,187.8 864.8,185.8 865.2,179.8 865.6,187.3 866,187.3 866.4,182.4 866.8,187.3 867.2,183 867.6,182.2 868,185.1 868.4,182.9 868.8,191.7 869.2,180 869.6,186.7 870,187.3 870.4,178.2 870.8,178.8 871.2,185.5 871.6,182.2 872,184.7 872.4,186.8 872.8,182.1 873.2,179.8 873.6,174.7 874,183.3 874.4,179.8 874.8,183.3 875.2,182.9 875.6,178 876,187.2 876.4,185.4 876.8,184.9 877.2,179 877.6,181.5 878,181.3 878.4,181.9 878.8,179.9 879.2,184.8 879.6,184.4 880,185 880.4,182.6 880.8,188.2 881.2,185.1 881.6,176.5 882,183 882.4,184.9 882.8,188.2 883.2,184.6 883.6,185 884,183.9 884.4,188.1 884.8,185 885.2,184.7 885.6,184.5 886,188.6 886.4,185.5 886.8,182.3 887.2,189.4 887.6,185.6 888,189 888.4,189.3 888.8,192.1 889.2,191.8 889.6,187.2 890,188.7 890.4,185.6 890.8,194.8 891.2,191.3 891.6,194.4 892,189.6 892.4,184.6 892.8,195.6 893.2,191.6 893.6,192 894,192 894.4,194 894.8,193.9 895.2,187.8 895.6,196.1 896,191.5 896.4,192 896.8,198.8 897.2,196.7 897.6,193.1 898,188.8 898.4,195.2 898.8,196.5 899.2,194.9 899.6,191.7 900,193.3 900.4,192.2 900.8,196.9 901.2,198.9 901.6,199.8 902,194.8 902.4,198 902.8,199.2 903.2,196.2 903.6,197.6 904,204.7 904.4,199.2 904.8,201.4 905.2,197.6" fill="none" stroke="#22eeee" stroke-width="1.1" stroke-linejoin="round"/>
<polyline points="522,250.1 522.4,244.7 522.8,249.7 523.2,253.2 523.6,255.8 524,253 524.4,251.3 524.8,249.3 525.2,247.2 525.6,248.4 526,250.6 526.4,246.3 526.8,251.3 527.2,245.4 527.6,242.9 528,245.1 528.4,243 528.8,243.8 529.2,251.2 529.6,247.1 530,248.2 530.4,250.9 530.8,251.1 531.2,245.7 531.6,251 532,248.1 532.4,246.8 532.8,248 533.2,242.3 533.6,244.1 534,246 534.4,248 534.8,245 535.2,245.6 535.6,248.8 536,250 536.4,247.9 536.8,249.3 537.2,244.1 537.6,244.3 538,246.1 538.4,244.1 538.8,243.3 539.2,249.7 539.6,244 540,241.6 540.4,245.8 540.8,249.8 541.2,244.4 541.6,247.7 542,242.6 542.4,242.3 542.8,241.6 543.2,243.1 543.6,248.9 544,239.8 544.4,248.1 544.8,240 545.2,242.1 545.6,245.2 546,244.3 546.4,243.1 546.8,237.1 547.2,242.9 547.6,238.5 548,249.1 548.4,240.5 548.8,241.5 549.2,237.3 549.6,239.1 550,236.4 550.4,243 550.8,239.1 551.2,241.4 551.6,237.4 552,237.7 552.4,242.9 552.8,235.9 553.2,233.2 553.6,239.6 554,234.8 554.4,236.6 554.8,240.5 555.2,235.1 555.6,240 556,235.1 556.4,241.4 556.8,240.7 557.2,235.1 557.6,235.6 558,233.5 558.4,236.4 558.8,239.1 559.2,231.1 559.6,237.9 560,230.9 560.4,231.8 560.8,228.6 561.2,239.7 561.6,233.1 562,233.1 562.4,229.8 562.8,234.5 563.2,224.5 563.6,230.4 564,236.4 564.4,228.1 564.8,228.8 565.2,230.2 565.6,225.3 566,227.2 566.4,229.5 566.8,226.7 567.2,226.7 567.6,224 568,225.5 568.4,224.2 568.8,227.9 569.2,225.2 569.6,221.8 570,214.7 570.4,223.8 570.8,223.6 571.2,218.3 571.6,214.7 572,217 572.4,222.9 572.8,216.6 573.2,218.1 573.6,219.8 574,222.5 574.4,218.5 574.8,217.9 575.2,216.3 575.6,222.5 576,220.5 576.4,216.7 576.8,212.5 577.2,214 577.6,217.8 578,213.6 578.4,218.2 578.8,216.4 579.2,216.1 579.6,217.4 580,217.1 580.4,213.3 580.8,215.1 581.2,223.4 581.6,213 582,215.5 582.4,220.3 582.8,216.9 583.2,215.2 583.6,213.9 584,219.8 584.4,221.5 584.8,222.9 585.2,219.1 585.6,222.3 586,216.3 586.4,220.2 586.8,217.9 587.2,220.7 587.6,222.7 588,223.9 588.4,218 588.8,225 589.2,220 589.6,218.7 590,221.6 590.4,218.2 590.8,223.2 591.2,224.6 591.6,223.7 592,226.5 592.4,224.5 592.8,226.1 593.2,222.3 593.6,227.3 594,225.2 594.4,227 594.8,228.7 595.2,230.1 595.6,225.2 596,226 596.4,230.4 596.8,233.3 597.2,233.5 597.6,235.7 598,237.5 598.4,235.7 598.8,234.7 599.2,232.3 599.6,233.1 600,235.1 600.4,237.9 600.8,238.2 601.2,237.9 601.6,237.7 602,240.3 602.4,239.2 602.8,239.6 603.2,239.8 603.6,237.4 604,236.1 604.4,240.9 604.8,240.8 605.2,239.1 605.6,238.7 606,246.9 606.4,238 606.8,239.8 607.2,241.4 607.6,237.3 608,241.3 608.4,246.5 608.8,244 609.2,243.3 609.6,243.4 610,242.1 610.4,244.8 610.8,241.6 611.2,241 611.6,242.7 612,245.3 612.4,243.8 612.8,245 613.2,237 613.6,246.8 614,250.5 614.4,247.6 614.8,242.8 615.2,241.4 615.6,244.9 616,241.3 616.4,246.6 616.8,243 617.2,247.7 617.6,249 618,239 618.4,246.2 618.8,243.4 619.2,241.4 619.6,243.9 620,245.2 620.4,249.1 620.8,241.5 621.2,249.2 621.6,252.1 622,247.9 622.4,247.8 622.8,246.1 623.2,242.7 623.6,247.9 624,247.4 624.4,248.5 624.8,254.1 625.2,248.6 625.6,247.7 626,251.1 626.4,242.5 626.8,243.1 627.2,245.4 627.6,244.6 628,248.7 628.4,245.7 628.8,251.9 629.2,251.3 629.6,249.1 630,245.6 630.4,248.7 630.8,249.3 631.2,243.7 631.6,248 632,249.1 632.4,247.6 632.8,251.7 633.2,250.7 633.6,244.6 634,247.5 634.4,244.6 634.8,248.9 635.2,244.6 635.6,250 636,248.4 636.4,250.2 636.8,246.9 637.2,243 637.6,252.7 638,246.9 638.4,251.6 638.8,248.8 639.2,249.6 639.6,253.1 640,248.6 640.4,251.8 640.8,243.2 641.2,250.3 641.6,247 642,247.4 642.4,247.8 642.8,248.9 643.2,252.8 643.6,242.3 644,248 644.4,245.8 644.8,251.4 645.2,246.6 645.6,249.2 646,246.6 646.4,249.8 646.8,250.8 647.2,246.5 647.6,247.8 648,243.4 648.4,248.6 648.8,250.2 649.2,245.9 649.6,250.9 650,241.3 650.4,242 650.8,243.3 651.2,246 651.6,247.5 652,247.2 652.4,247.2 652.8,249.5 653.2,245.9 653.6,243.5 654,243.5 654.4,253.6 654.8,240.2 655.2,246.7 655.6,251.5 656,248.6 656.4,244.6 656.8,247.1 657.2,249.7 657.6,250.7 658,244.3 658.4,249.3 658.8,247.7 659.2,250.2 659.6,251.1 660,245.8 660.4,242.5 660.8,248 661.2,252.1 661.6,248.8 662,247.4 662.4,253.9 662.8,243.6 663.2,249.4 663.6,244.9 664,246.8 664.4,246.9 664.8,251.1 665.2,243.7 665.6,244.9 666,241.7 666.4,247.9 666.8,245.1 667.2,247.7 667.6,243.2 668,245.3 668.4,249.4 668.8,245.8 669.2,248.1 669.6,247.8 670,245.2 670.4,241.5 670.8,249.1 671.2,246.6 671.6,249.1 672,240 672.4,241.1 672.8,239.6 673.2,243.4 673.6,249.1 674,247.6 674.4,245.8 674.8,246.3 675.2,248.1 675.6,244.9 676,247 676.4,246.2 676.8,239.2 677.2,244.6 677.6,249.8 678,244.5 678.4,245.2 678.8,243.8 679.2,244.1 679.6,248.9 680,244.7 680.4,242.4 680.8,236.1 681.2,243.7 681.6,239.5 682,239.9 682.4,247.8 682.8,247.5 683.2,239.6 683.6,247.8 684,246.6 684.4,242.9 684.8,247.4 685.2,240.3 685.6,241.5 686,240.8 686.4,241.8 686.8,247.7 687.2,241 687.6,241.6 688,242.1 688.4,245.6 688.8,243.9 689.2,247.5 689.6,242.7 690,240.9 690.4,243.2 690.8,244.7 691.2,241.6 691.6,245.1 692,249.6 692.4,242.2 692.8,244 693.2,247.8 693.6,241.6 694,240.9 694.4,240 694.8,244.3 695.2,244.5 695.6,242.4 696,242.8 696.4,246.4 696.8,245 697.2,238 697.6,242.1 698,242.3 698.4,244 698.8,241 699.2,239.6 699.6,240 700,235.9 700.4,241 700.8,239.2 701.2,242.2 701.6,237.6 702,239.2 702.4,237.4 702.8,237 703.2,242.2 703.6,238.5 704,241.1 704.4,236.3 704.8,239.8 705.2,234.3 705.6,237.8 706,237.6 706.4,240.7 706.8,239.3 707.2,238.1 707.6,241 708,238.9 708.4,239.8 708.8,240.3 709.2,237.7 709.6,236.9 710,238.6 710.4,236.3 710.8,238.6 711.2,240.6 711.6,239.7 712,235.9 712.4,233.1 712.8,236.7 713.2,236.4 713.6,239.9 714,235.4 714.4,235.8 714.8,238.5 715.2,234.7 715.6,235.6 716,241.1 716.4,240.3 716.8,237.6 717.2,236.4 717.6,232.6 718,237.1 718.4,235.5 718.8,235.8 719.2,233.5 719.6,234.9 720,234.3 720.4,235.7 720.8,238.9 721.2,235.6 721.6,229.4 722,231.4 722.4,229.4 722.8,231.7 723.2,235.6 723.6,235 724,231.9 724.4,234.4 724.8,231.2 725.2,229.1 725.6,229 726,230.6 726.4,237.3 726.8,228.9 727.2,236.5 727.6,236.6 728,232 728.4,232.3 728.8,230.5 729.2,232.1 729.6,234.1 730,232 730.4,234.8 730.8,235.3 731.2,232.6 731.6,232.5 732,231.2 732.4,232.3 732.8,227.8 733.2,232.2 733.6,231.5 734,228.2 734.4,237.1 734.8,227.6 735.2,227.8 735.6,231.1 736,224.4 736.4,227.7 736.8,225.4 737.2,226.9 737.6,229.3 738,230.5 738.4,232.7 738.8,231.7 739.2,232.7 739.6,230.8 740,227.5 740.4,232.1 740.8,227.1 741.2,226.6 741.6,232.8 742,230.5 742.4,228.6 742.8,230 743.2,230.2 743.6,223.4 744,227 744.4,223.6 744.8,227.3 745.2,224.7 745.6,230.7 746,228 746.4,223.8 746.8,226 747.2,222.2 747.6,225.8 748,227.1 748.4,226.1 748.8,219.3 749.2,223.9 749.6,226.2 750,225.4 750.4,227.8 750.8,220.2 751.2,225.4 751.6,221.7 752,224 752.4,224.4 752.8,225 753.2,221 753.6,223 754,218.7 754.4,217.7 754.8,223.4 755.2,221.4 755.6,216.7 756,218.9 756.4,221.5 756.8,226.1 757.2,224.5 757.6,223.7 758,215.8 758.4,220.8 758.8,222.4 759.2,221.9 759.6,221.8 760,219.6 760.4,225.3 760.8,224.1 761.2,219 761.6,215.8 762,224.3 762.4,215.8 762.8,220.1 763.2,221.2 763.6,211.4 764,213.8 764.4,210.2 764.8,211 765.2,208.2 765.6,210.5 766,203.4 766.4,197.9 766.8,196.7 767.2,186.8 767.6,179.4 768,178 768.4,156.7 768.8,141.5 769.2,120.6 769.6,85.4 770,35.3 770.4,20 770.8,20 771.2,20 771.6,20 772,20 772.4,20 772.8,20 773.2,20 773.6,20 774,43.7 774.4,83.8 774.8,120.1 775.2,139.1 775.6,161.1 776,170.2 776.4,180.2 776.8,186.9 777.2,191 777.6,192.8 778,202.7 778.4,199.9 778.8,203 779.2,207.8 779.6,208.4 780,212.9 780.4,216.4 780.8,215.3 781.2,216.2 781.6,216.6 782,219.9 782.4,212.7 782.8,220.1 783.2,217 783.6,216.8 784,221.2 784.4,220.6 784.8,224.1 785.2,226.2 785.6,216.4 786,223.7 786.4,230.3 786.8,227.4 787.2,229.6 787.6,226 788,221.8 788.4,223.1 788.8,228.9 789.2,230 789.6,225.3 790,227 790.4,229 790.8,223.2 791.2,227.8 791.6,234 792,236 792.4,229.4 792.8,235.5 793.2,228.7 793.6,228.1 794,224.1 794.4,234 794.8,230.2 795.2,238.6 795.6,232.9 796,232.7 796.4,227 796.8,237.2 797.2,231.8 797.6,232.7 798,226.8 798.4,236.4 798.8,236.8 799.2,232.3 799.6,234.6 800,235.7 800.4,237.6 800.8,235.2 801.2,240.2 801.6,234.4 802,233.4 802.4,234 802.8,227.9 803.2,233.2 803.6,238.8 804,236.7 804.4,233.6 804.8,237.2 805.2,230.2 805.6,235.5 806,238.1 806.4,238.7 806.8,234.4 807.2,239.6 807.6,242.6 808,235.8 808.4,239.4 808.8,232.7 809.2,231.6 809.6,239.4 810,237.8 810.4,238.4 810.8,236.1 811.2,237.1 811.6,240.6 812,243.4 812.4,237.7 812.8,233.5 813.2,242.4 813.6,240.5 814,240.8 814.4,239.5 814.8,246 815.2,239.4 815.6,240.8 816,233.8 816.4,237.7 816.8,237.5 817.2,239.6 817.6,240.8 818,237.6 818.4,245.2 818.8,236.9 819.2,238.9 819.6,241 820,236.6 820.4,242.2 820.8,242.4 821.2,239.7 821.6,246.4 822,240.9 822.4,241.6 822.8,237.9 823.2,235.8 823.6,239 824,239.9 824.4,239.6 824.8,243.3 825.2,233.9 825.6,237.7 826,235.7 826.4,245.2 826.8,239.5 827.2,239.7 827.6,238 828,244.1 828.4,240.2 828.8,242.1 829.2,235.4 829.6,245.1 830,242.8 830.4,243.3 830.8,245.4 831.2,241.2 831.6,241.3 832,244 832.4,243.2 832.8,241.2 833.2,242.1 833.6,240.5 834,244.2 834.4,244.9 834.8,242.2 835.2,247.9 835.6,237.6 836,241.6 836.4,247.5 836.8,241.1 837.2,237.6 837.6,246.7 838,244.2 838.4,239 838.8,244.9 839.2,239.4 839.6,238.3 840,241.7 840.4,240.5 840.8,238.5 841.2,240.5 841.6,238.3 842,241.3 842.4,240.9 842.8,243 843.2,239.2 843.6,236.4 844,236.2 844.4,239.2 844.8,244.4 845.2,242.1 845.6,237.5 846,242 846.4,235.5 846.8,241.8 847.2,237.4 847.6,240.7 848,240.1 848.4,237.2 848.8,238.8 849.2,234.4 849.6,237.2 850,240.5 850.4,249.3 850.8,238.9 851.2,236.9 851.6,233.4 852,239.4 852.4,231 852.8,233.4 853.2,236.7 853.6,231.8 854,239.8 854.4,238.3 854.8,233.1 855.2,232.8 855.6,230.2 856,229.6 856.4,234.8 856.8,235 857.2,233.8 857.6,233.2 858,230.3 858.4,232.7 858.8,226.8 859.2,230.9 859.6,235 860,234.2 860.4,228.4 860.8,228.5 861.2,233.3 861.6,234.1 862,223.9 862.4,226.7 862.8,228.4 863.2,231 863.6,224.4 864,228.5 864.4,225.3 864.8,233 865.2,226.8 865.6,224.7 866,223.8 866.4,227.8 866.8,226.5 867.2,221 867.6,224.8 868,219.9 868.4,221.5 868.8,219.7 869.2,219.5 869.6,221.3 870,220.2 870.4,224.6 870.8,225.2 871.2,222 871.6,219.2 872,224.8 872.4,216.1 872.8,216.2 873.2,224.1 873.6,223.7 874,224.5 874.4,220.8 874.8,217.5 875.2,219.6 875.6,222.7 876,218.6 876.4,218.9 876.8,217 877.2,217.9 877.6,224.1 878,223.1 878.4,218.5 878.8,218.9 879.2,220.7 879.6,224.2 880,219.3 880.4,222.5 880.8,216.7 881.2,219.6 881.6,224.9 882,226.5 882.4,220.5 882.8,221.9 883.2,226.8 883.6,223.4 884,223.2 884.4,226.6 884.8,225.8 885.2,228.7 885.6,228 886,224.1 886.4,225.6 886.8,226 887.2,222.3 887.6,223.7 888,229.7 888.4,222.2 888.8,230.2 889.2,228.3 889.6,227.2 890,229.5 890.4,229.5 890.8,231.9 891.2,227.3 891.6,228 892,228.2 892.4,234.8 892.8,232.2 893.2,226.8 893.6,228.8 894,227.9 894.4,230.2 894.8,231.1 895.2,237.5 895.6,225.3 896,234.1 896.4,232.6 896.8,229.4 897.2,231.2 897.6,230.4 898,232.3 898.4,235.4 898.8,228 899.2,236.7 899.6,231.8 900,237.7 900.4,234.6 900.8,237.3 901.2,235.5 901.6,237.3 902,234.4 902.4,232 902.8,236.7 903.2,237 903.6,241.4 904,229.3 904.4,234.9 904.8,238.9 905.2,232" fill="none" stroke="#ff8020" stroke-width="1.1" stroke-linejoin="round"/>
<line x1="563" y1="249" x2="563" y2="307" stroke="#ff44cc" stroke-width="1.8"/>
<line x1="729.4" y1="289" x2="729.4" y2="307" stroke="#ff44cc" stroke-width="1.8"/>
<line x1="735.9" y1="289" x2="735.9" y2="307" stroke="#ff44cc" stroke-width="1.8"/>
<line x1="761" y1="289" x2="761" y2="307" stroke="#ff44cc" stroke-width="1.8"/>
<line x1="780" y1="283" x2="780" y2="307" stroke="#ff44cc" stroke-width="1.8"/>
<line x1="786.5" y1="283" x2="786.5" y2="307" stroke="#ff44cc" stroke-width="1.8"/>
<line x1="821" y1="303" x2="821" y2="307" stroke="#ff44cc" stroke-width="1.8"/>
<line x1="886.3" y1="297.6" x2="886.3" y2="307" stroke="#ff44cc" stroke-width="1.8"/>
<line x1="890" y1="299" x2="890" y2="307" stroke="#ff44cc" stroke-width="1.8"/>
<line x1="588" y1="249" x2="588" y2="307" stroke="#8c8c50" stroke-width="1.5"/>
<line x1="810" y1="298" x2="810" y2="307" stroke="#8c8c50" stroke-width="1.5"/>
<line x1="870.6" y1="292" x2="870.6" y2="307" stroke="#8c8c50" stroke-width="1.5"/>
<line x1="882.4" y1="292" x2="882.4" y2="307" stroke="#8c8c50" stroke-width="1.5"/>
<line x1="562" y1="306" x2="590" y2="306" stroke="#6666ee" stroke-width="1.5"/>
</g>
<rect x="522" y="25.5" width="383" height="281.5" fill="none" stroke="#3a3a3a" stroke-width="1.6"/>
<line x1="521.8" y1="307" x2="521.8" y2="302.0" stroke="#3a3a3a" stroke-width="1.4"/>
<line x1="560.1" y1="307" x2="560.1" y2="304.5" stroke="#3a3a3a" stroke-width="1.4"/>
<line x1="598.4" y1="307" x2="598.4" y2="302.0" stroke="#3a3a3a" stroke-width="1.4"/>
<line x1="636.7" y1="307" x2="636.7" y2="304.5" stroke="#3a3a3a" stroke-width="1.4"/>
<line x1="675.0" y1="307" x2="675.0" y2="302.0" stroke="#3a3a3a" stroke-width="1.4"/>
<line x1="713.3" y1="307" x2="713.3" y2="304.5" stroke="#3a3a3a" stroke-width="1.4"/>
<line x1="751.6" y1="307" x2="751.6" y2="302.0" stroke="#3a3a3a" stroke-width="1.4"/>
<line x1="789.9" y1="307" x2="789.9" y2="304.5" stroke="#3a3a3a" stroke-width="1.4"/>
<line x1="828.2" y1="307" x2="828.2" y2="302.0" stroke="#3a3a3a" stroke-width="1.4"/>
<line x1="866.5" y1="307" x2="866.5" y2="304.5" stroke="#3a3a3a" stroke-width="1.4"/>
<line x1="904.8" y1="307" x2="904.8" y2="302.0" stroke="#3a3a3a" stroke-width="1.4"/>
<text x="522.8" y="329" text-anchor="middle" font-family='"Liberation Sans", sans-serif' font-size="17.5" fill="#1a1a1a">10</text>
<text x="599.4" y="329" text-anchor="middle" font-family='"Liberation Sans", sans-serif' font-size="17.5" fill="#1a1a1a">15</text>
<text x="676.0" y="329" text-anchor="middle" font-family='"Liberation Sans", sans-serif' font-size="17.5" fill="#1a1a1a">20</text>
<text x="752.6" y="329" text-anchor="middle" font-family='"Liberation Sans", sans-serif' font-size="17.5" fill="#1a1a1a">25</text>
<text x="829.2" y="329" text-anchor="middle" font-family='"Liberation Sans", sans-serif' font-size="17.5" fill="#1a1a1a">30</text>
<text x="905.8" y="329" text-anchor="middle" font-family='"Liberation Sans", sans-serif' font-size="17.5" fill="#1a1a1a">35</text>
<text x="690" y="357" font-family='"Liberation Sans", sans-serif' font-size="21.5" fill="#1a1a1a">2θ(°)</text>
<text transform="translate(507.4,166) rotate(-90)" text-anchor="middle" font-family='"Liberation Sans", sans-serif' font-size="21.5" fill="#1a1a1a">Intensity (a.u.)</text>
<text x="489.5" y="59" font-family='"Liberation Sans", sans-serif' font-weight="bold" font-size="26" fill="#000">b</text>
<text x="642.5" y="54.5" font-family='"Liberation Sans", sans-serif' font-size="18.5" fill="#1a1a1a">WS<tspan font-size="11.1" dy="6">2</tspan><tspan dy="-6">–ox0</tspan></text>
<text x="642.5" y="99.3" font-family='"Liberation Sans", sans-serif' font-size="18.5" fill="#1a1a1a">WS<tspan font-size="11.1" dy="6">2</tspan><tspan dy="-6">–ox2</tspan></text>
<text x="642.5" y="144" font-family='"Liberation Sans", sans-serif' font-size="18.5" fill="#1a1a1a">WS<tspan font-size="11.1" dy="6">2</tspan><tspan dy="-6">–ox4</tspan></text>
<text x="642.5" y="192.4" font-family='"Liberation Sans", sans-serif' font-size="18.5" fill="#1a1a1a">WS<tspan font-size="11.1" dy="6">2</tspan><tspan dy="-6">–ox6</tspan></text>
<text x="642.5" y="229.3" font-family='"Liberation Sans", sans-serif' font-size="18.5" fill="#1a1a1a">WS<tspan font-size="11.1" dy="6">2</tspan><tspan dy="-6">–ox12</tspan></text>
<line x1="608" y1="260" x2="608" y2="271" stroke="#ff44cc" stroke-width="2.4"/>
<line x1="608" y1="284.5" x2="608" y2="295" stroke="#8c8c50" stroke-width="2"/>
<text x="615" y="270.6" font-family='"Liberation Sans", sans-serif' font-size="18" fill="#1a1a1a">standard WO<tspan font-size="11.5" dy="4.5">3</tspan><tspan dy="-4.5">·2H</tspan><tspan font-size="11.5" dy="4.5">2</tspan><tspan dy="-4.5">O</tspan></text>
<text x="615" y="293.7" font-family='"Liberation Sans", sans-serif' font-size="18" fill="#1a1a1a">standard WS<tspan font-size="11.2" dy="6">2</tspan></text>
<g clip-path="url(#clipPc)">
<line x1="80" y1="415.8" x2="441" y2="415.8" stroke="#555" stroke-width="1.5"/>
<rect x="81.2" y="412.5" width="6.6" height="6.6" fill="#000" stroke="#000" stroke-width="0.8"/>
<rect x="97.4" y="412.5" width="6.6" height="6.6" fill="#000" stroke="#000" stroke-width="0.8"/>
<rect x="113.6" y="412.5" width="6.6" height="6.6" fill="#000" stroke="#000" stroke-width="0.8"/>
<rect x="129.8" y="412.5" width="6.6" height="6.6" fill="#000" stroke="#000" stroke-width="0.8"/>
<rect x="146.0" y="412.5" width="6.6" height="6.6" fill="#000" stroke="#000" stroke-width="0.8"/>
<rect x="162.2" y="412.5" width="6.6" height="6.6" fill="#000" stroke="#000" stroke-width="0.8"/>
<rect x="178.4" y="412.5" width="6.6" height="6.6" fill="#000" stroke="#000" stroke-width="0.8"/>
<rect x="194.6" y="412.5" width="6.6" height="6.6" fill="#000" stroke="#000" stroke-width="0.8"/>
<rect x="210.8" y="412.5" width="6.6" height="6.6" fill="#000" stroke="#000" stroke-width="0.8"/>
<rect x="227.0" y="412.5" width="6.6" height="6.6" fill="#000" stroke="#000" stroke-width="0.8"/>
<rect x="243.2" y="412.5" width="6.6" height="6.6" fill="#000" stroke="#000" stroke-width="0.8"/>
<rect x="259.4" y="412.5" width="6.6" height="6.6" fill="#000" stroke="#000" stroke-width="0.8"/>
<rect x="275.6" y="412.5" width="6.6" height="6.6" fill="#000" stroke="#000" stroke-width="0.8"/>
<rect x="291.8" y="412.5" width="6.6" height="6.6" fill="#000" stroke="#000" stroke-width="0.8"/>
<rect x="308.0" y="412.5" width="6.6" height="6.6" fill="#000" stroke="#000" stroke-width="0.8"/>
<rect x="324.2" y="412.5" width="6.6" height="6.6" fill="#000" stroke="#000" stroke-width="0.8"/>
<rect x="340.4" y="412.5" width="6.6" height="6.6" fill="#000" stroke="#000" stroke-width="0.8"/>
<rect x="356.6" y="412.5" width="6.6" height="6.6" fill="#000" stroke="#000" stroke-width="0.8"/>
<rect x="372.8" y="412.5" width="6.6" height="6.6" fill="#000" stroke="#000" stroke-width="0.8"/>
<rect x="389.0" y="412.5" width="6.6" height="6.6" fill="#000" stroke="#000" stroke-width="0.8"/>
<rect x="405.2" y="412.5" width="6.6" height="6.6" fill="#000" stroke="#000" stroke-width="0.8"/>
<rect x="421.4" y="412.5" width="6.6" height="6.6" fill="#000" stroke="#000" stroke-width="0.8"/>
<rect x="437.6" y="412.5" width="6.6" height="6.6" fill="#000" stroke="#000" stroke-width="0.8"/>
<line x1="190" y1="687.5" x2="441" y2="687.5" stroke="#3030e0" stroke-width="1.5"/>
<polyline points="97.2,687 100.9,672.9 108.7,644.2 116.6,616.2 124.6,588.6 133.4,563.4 142.5,539.7 152.6,517.5 163,497.4 173.3,480.2 185.6,464.7 197.9,452.2 211,442.5 225.5,434.5 239.7,428.7 255,424.4 269.7,420.9 285,418.6 300,417.2 315,416.4 330,415.9 345,415.6 360,415.4 375,415.3 390,415.2 405,415.2 420,415.1 435,415.1 441,415.1" fill="none" stroke="#ff2a2a" stroke-width="1.7"/>
<polyline points="154.4,687 159.3,656.7 165.8,625.3 172.7,594.7 180.2,565.6 188.8,538.6 197,513.1 206.7,491.6 216.9,471.1 228.3,455.6 240.6,441.6 253.5,431.3 267,424.5 281,420.5 296,418.3 311,417.2 326,416.6 341,416.3 356,416.1 371,416 386,416 401,416 416,416 431,416 441,416" fill="none" stroke="#22e022" stroke-width="1.7"/>
<polyline points="183,687 187.8,656.7 192.1,618.8 197.9,583.9 205,552.6 212.5,522.8 220,494.8 228.7,470.5 239.5,450.6 251.3,436.6 264.3,427 278,421.5 293,418.4 308,416.8 323,416 338,415.6 353,415.4 368,415.3 383,415.2 398,415.2 413,415.2 428,415.2 441,415.2" fill="none" stroke="#7a7a28" stroke-width="1.7"/>
<polyline points="190.3,687 190.3,655 192.1,653.9 199.2,624.8 204.6,592.5 210.4,554.8 216.9,526 225.5,498 233.4,474.4 244.9,455.6 256.7,439.9 269.7,430.2 284,424.5 299,421 314,419.2 329,418.3 344,417.8 359,417.6 374,417.5 389,417.4 404,417.4 419,417.4 434,417.4 441,417.4" fill="none" stroke="#2828e0" stroke-width="1.7"/>
<polyline points="214.7,687 214.7,676.6 217.9,634.5 221.6,594.2 226.6,556.9 232,522.8 238.4,491.6 246,465.7 256.7,446.3 268.6,433.4 282,426 297,421.5 312,419.3 327,418.3 342,417.9 357,417.7 372,417.6 387,417.6 402,417.6 417,417.6 432,417.6 441,417.6" fill="none" stroke="#22e8e8" stroke-width="1.7"/>
<polyline points="269,514 279.8,496.6 296,469.3 312.4,444.7 329.3,424.7 345,416.4 360.7,416.1 377,416 393.3,416 409,416 425.9,416 440.3,416" fill="none" stroke="#8a8ad8" stroke-width="1.7"/>
<rect x="97.9" y="669.9" width="6.0" height="6.0" fill="#fff" stroke="#ff2a2a" stroke-width="1.8"/>
<rect x="105.7" y="641.2" width="6.0" height="6.0" fill="#fff" stroke="#ff2a2a" stroke-width="1.8"/>
<rect x="113.6" y="613.2" width="6.0" height="6.0" fill="#fff" stroke="#ff2a2a" stroke-width="1.8"/>
<rect x="121.6" y="585.6" width="6.0" height="6.0" fill="#fff" stroke="#ff2a2a" stroke-width="1.8"/>
<rect x="130.4" y="560.4" width="6.0" height="6.0" fill="#fff" stroke="#ff2a2a" stroke-width="1.8"/>
<rect x="139.5" y="536.7" width="6.0" height="6.0" fill="#fff" stroke="#ff2a2a" stroke-width="1.8"/>
<rect x="149.6" y="514.5" width="6.0" height="6.0" fill="#fff" stroke="#ff2a2a" stroke-width="1.8"/>
<rect x="160.0" y="494.4" width="6.0" height="6.0" fill="#fff" stroke="#ff2a2a" stroke-width="1.8"/>
<rect x="170.3" y="477.2" width="6.0" height="6.0" fill="#fff" stroke="#ff2a2a" stroke-width="1.8"/>
<rect x="182.6" y="461.7" width="6.0" height="6.0" fill="#fff" stroke="#ff2a2a" stroke-width="1.8"/>
<rect x="194.9" y="449.2" width="6.0" height="6.0" fill="#fff" stroke="#ff2a2a" stroke-width="1.8"/>
<rect x="208.0" y="439.5" width="6.0" height="6.0" fill="#fff" stroke="#ff2a2a" stroke-width="1.8"/>
<rect x="222.5" y="431.5" width="6.0" height="6.0" fill="#fff" stroke="#ff2a2a" stroke-width="1.8"/>
<rect x="236.7" y="425.7" width="6.0" height="6.0" fill="#fff" stroke="#ff2a2a" stroke-width="1.8"/>
<rect x="252.0" y="421.4" width="6.0" height="6.0" fill="#fff" stroke="#ff2a2a" stroke-width="1.8"/>
<rect x="266.7" y="417.9" width="6.0" height="6.0" fill="#fff" stroke="#ff2a2a" stroke-width="1.8"/>
<rect x="282.0" y="415.6" width="6.0" height="6.0" fill="#fff" stroke="#ff2a2a" stroke-width="1.8"/>
<rect x="297.0" y="414.2" width="6.0" height="6.0" fill="#fff" stroke="#ff2a2a" stroke-width="1.8"/>
<rect x="312.0" y="413.4" width="6.0" height="6.0" fill="#fff" stroke="#ff2a2a" stroke-width="1.8"/>
<rect x="327.0" y="412.9" width="6.0" height="6.0" fill="#fff" stroke="#ff2a2a" stroke-width="1.8"/>
<rect x="342.0" y="412.6" width="6.0" height="6.0" fill="#fff" stroke="#ff2a2a" stroke-width="1.8"/>
<rect x="357.0" y="412.4" width="6.0" height="6.0" fill="#fff" stroke="#ff2a2a" stroke-width="1.8"/>
<rect x="372.0" y="412.3" width="6.0" height="6.0" fill="#fff" stroke="#ff2a2a" stroke-width="1.8"/>
<rect x="387.0" y="412.2" width="6.0" height="6.0" fill="#fff" stroke="#ff2a2a" stroke-width="1.8"/>
<rect x="402.0" y="412.2" width="6.0" height="6.0" fill="#fff" stroke="#ff2a2a" stroke-width="1.8"/>
<rect x="417.0" y="412.1" width="6.0" height="6.0" fill="#fff" stroke="#ff2a2a" stroke-width="1.8"/>
<rect x="432.0" y="412.1" width="6.0" height="6.0" fill="#fff" stroke="#ff2a2a" stroke-width="1.8"/>
<rect x="438.0" y="412.1" width="6.0" height="6.0" fill="#fff" stroke="#ff2a2a" stroke-width="1.8"/>
<circle cx="159.3" cy="656.7" r="3.6" fill="#fff" stroke="#22e022" stroke-width="1.8"/>
<circle cx="165.8" cy="625.3" r="3.6" fill="#fff" stroke="#22e022" stroke-width="1.8"/>
<circle cx="172.7" cy="594.7" r="3.6" fill="#fff" stroke="#22e022" stroke-width="1.8"/>
<circle cx="180.2" cy="565.6" r="3.6" fill="#fff" stroke="#22e022" stroke-width="1.8"/>
<circle cx="188.8" cy="538.6" r="3.6" fill="#fff" stroke="#22e022" stroke-width="1.8"/>
<circle cx="197.0" cy="513.1" r="3.6" fill="#fff" stroke="#22e022" stroke-width="1.8"/>
<circle cx="206.7" cy="491.6" r="3.6" fill="#fff" stroke="#22e022" stroke-width="1.8"/>
<circle cx="216.9" cy="471.1" r="3.6" fill="#fff" stroke="#22e022" stroke-width="1.8"/>
<circle cx="228.3" cy="455.6" r="3.6" fill="#fff" stroke="#22e022" stroke-width="1.8"/>
<circle cx="240.6" cy="441.6" r="3.6" fill="#fff" stroke="#22e022" stroke-width="1.8"/>
<circle cx="253.5" cy="431.3" r="3.6" fill="#fff" stroke="#22e022" stroke-width="1.8"/>
<circle cx="267.0" cy="424.5" r="3.6" fill="#fff" stroke="#22e022" stroke-width="1.8"/>
<circle cx="281.0" cy="420.5" r="3.6" fill="#fff" stroke="#22e022" stroke-width="1.8"/>
<circle cx="296.0" cy="418.3" r="3.6" fill="#fff" stroke="#22e022" stroke-width="1.8"/>
<circle cx="311.0" cy="417.2" r="3.6" fill="#fff" stroke="#22e022" stroke-width="1.8"/>
<circle cx="326.0" cy="416.6" r="3.6" fill="#fff" stroke="#22e022" stroke-width="1.8"/>
<circle cx="341.0" cy="416.3" r="3.6" fill="#fff" stroke="#22e022" stroke-width="1.8"/>
<circle cx="356.0" cy="416.1" r="3.6" fill="#fff" stroke="#22e022" stroke-width="1.8"/>
<circle cx="371.0" cy="416.0" r="3.6" fill="#fff" stroke="#22e022" stroke-width="1.8"/>
<circle cx="386.0" cy="416.0" r="3.6" fill="#fff" stroke="#22e022" stroke-width="1.8"/>
<circle cx="401.0" cy="416.0" r="3.6" fill="#fff" stroke="#22e022" stroke-width="1.8"/>
<circle cx="416.0" cy="416.0" r="3.6" fill="#fff" stroke="#22e022" stroke-width="1.8"/>
<circle cx="431.0" cy="416.0" r="3.6" fill="#fff" stroke="#22e022" stroke-width="1.8"/>
<circle cx="441.0" cy="416.0" r="3.6" fill="#fff" stroke="#22e022" stroke-width="1.8"/>
<polygon points="187.8,652.3 189,655.1 192,655.3 189.7,657.3 190.4,660.3 187.8,658.7 185.2,660.3 185.9,657.3 183.6,655.3 186.6,655.1" fill="#9a9640" stroke="#6a6a20" stroke-width="1.2" stroke-linejoin="round"/>
<polygon points="192.1,614.4 193.3,617.2 196.3,617.4 194,619.4 194.7,622.4 192.1,620.8 189.5,622.4 190.2,619.4 187.9,617.4 190.9,617.2" fill="#9a9640" stroke="#6a6a20" stroke-width="1.2" stroke-linejoin="round"/>
<polygon points="197.9,579.5 199.1,582.3 202.1,582.5 199.8,584.5 200.5,587.5 197.9,585.9 195.3,587.5 196,584.5 193.7,582.5 196.7,582.3" fill="#9a9640" stroke="#6a6a20" stroke-width="1.2" stroke-linejoin="round"/>
<polygon points="205,548.2 206.2,551 209.2,551.2 206.9,553.2 207.6,556.2 205,554.6 202.4,556.2 203.1,553.2 200.8,551.2 203.8,551" fill="#9a9640" stroke="#6a6a20" stroke-width="1.2" stroke-linejoin="round"/>
<polygon points="212.5,518.4 213.7,521.2 216.7,521.4 214.4,523.4 215.1,526.4 212.5,524.8 209.9,526.4 210.6,523.4 208.3,521.4 211.3,521.2" fill="#9a9640" stroke="#6a6a20" stroke-width="1.2" stroke-linejoin="round"/>
<polygon points="220,490.4 221.2,493.2 224.2,493.4 221.9,495.4 222.6,498.4 220,496.8 217.4,498.4 218.1,495.4 215.8,493.4 218.8,493.2" fill="#9a9640" stroke="#6a6a20" stroke-width="1.2" stroke-linejoin="round"/>
<polygon points="228.7,466.1 229.9,468.9 232.9,469.1 230.6,471.1 231.3,474.1 228.7,472.5 226.1,474.1 226.8,471.1 224.5,469.1 227.5,468.9" fill="#9a9640" stroke="#6a6a20" stroke-width="1.2" stroke-linejoin="round"/>
<polygon points="239.5,446.2 240.7,449 243.7,449.2 241.4,451.2 242.1,454.2 239.5,452.6 236.9,454.2 237.6,451.2 235.3,449.2 238.3,449" fill="#9a9640" stroke="#6a6a20" stroke-width="1.2" stroke-linejoin="round"/>
<polygon points="251.3,432.2 252.5,435 255.5,435.2 253.2,437.2 253.9,440.2 251.3,438.6 248.7,440.2 249.4,437.2 247.1,435.2 250.1,435" fill="#9a9640" stroke="#6a6a20" stroke-width="1.2" stroke-linejoin="round"/>
<polygon points="264.3,422.6 265.5,425.4 268.5,425.6 266.2,427.6 266.9,430.6 264.3,429 261.7,430.6 262.4,427.6 260.1,425.6 263.1,425.4" fill="#9a9640" stroke="#6a6a20" stroke-width="1.2" stroke-linejoin="round"/>
<polygon points="278,417.1 279.2,419.9 282.2,420.1 279.9,422.1 280.6,425.1 278,423.5 275.4,425.1 276.1,422.1 273.8,420.1 276.8,419.9" fill="#9a9640" stroke="#6a6a20" stroke-width="1.2" stroke-linejoin="round"/>
<polygon points="293,414 294.2,416.8 297.2,417 294.9,419 295.6,422 293,420.4 290.4,422 291.1,419 288.8,417 291.8,416.8" fill="#9a9640" stroke="#6a6a20" stroke-width="1.2" stroke-linejoin="round"/>
<polygon points="308,412.4 309.2,415.2 312.2,415.4 309.9,417.4 310.6,420.4 308,418.8 305.4,420.4 306.1,417.4 303.8,415.4 306.8,415.2" fill="#9a9640" stroke="#6a6a20" stroke-width="1.2" stroke-linejoin="round"/>
<polygon points="323,411.6 324.2,414.4 327.2,414.6 324.9,416.6 325.6,419.6 323,418 320.4,419.6 321.1,416.6 318.8,414.6 321.8,414.4" fill="#9a9640" stroke="#6a6a20" stroke-width="1.2" stroke-linejoin="round"/>
<polygon points="338,411.2 339.2,414 342.2,414.2 339.9,416.2 340.6,419.2 338,417.6 335.4,419.2 336.1,416.2 333.8,414.2 336.8,414" fill="#9a9640" stroke="#6a6a20" stroke-width="1.2" stroke-linejoin="round"/>
<polygon points="353,411 354.2,413.8 357.2,414 354.9,416 355.6,419 353,417.4 350.4,419 351.1,416 348.8,414 351.8,413.8" fill="#9a9640" stroke="#6a6a20" stroke-width="1.2" stroke-linejoin="round"/>
<polygon points="368,410.9 369.2,413.7 372.2,413.9 369.9,415.9 370.6,418.9 368,417.3 365.4,418.9 366.1,415.9 363.8,413.9 366.8,413.7" fill="#9a9640" stroke="#6a6a20" stroke-width="1.2" stroke-linejoin="round"/>
<polygon points="383,410.8 384.2,413.6 387.2,413.8 384.9,415.8 385.6,418.8 383,417.2 380.4,418.8 381.1,415.8 378.8,413.8 381.8,413.6" fill="#9a9640" stroke="#6a6a20" stroke-width="1.2" stroke-linejoin="round"/>
<polygon points="398,410.8 399.2,413.6 402.2,413.8 399.9,415.8 400.6,418.8 398,417.2 395.4,418.8 396.1,415.8 393.8,413.8 396.8,413.6" fill="#9a9640" stroke="#6a6a20" stroke-width="1.2" stroke-linejoin="round"/>
<polygon points="413,410.8 414.2,413.6 417.2,413.8 414.9,415.8 415.6,418.8 413,417.2 410.4,418.8 411.1,415.8 408.8,413.8 411.8,413.6" fill="#9a9640" stroke="#6a6a20" stroke-width="1.2" stroke-linejoin="round"/>
<polygon points="428,410.8 429.2,413.6 432.2,413.8 429.9,415.8 430.6,418.8 428,417.2 425.4,418.8 426.1,415.8 423.8,413.8 426.8,413.6" fill="#9a9640" stroke="#6a6a20" stroke-width="1.2" stroke-linejoin="round"/>
<polygon points="441,410.8 442.2,413.6 445.2,413.8 442.9,415.8 443.6,418.8 441,417.2 438.4,418.8 439.1,415.8 436.8,413.8 439.8,413.6" fill="#9a9640" stroke="#6a6a20" stroke-width="1.2" stroke-linejoin="round"/>
<polygon points="190.3,650.8 186.3,657.7 194.3,657.7" fill="#fff" stroke="#2828e0" stroke-width="1.8"/>
<polygon points="192.1,649.7 188.1,656.6 196.1,656.6" fill="#fff" stroke="#2828e0" stroke-width="1.8"/>
<polygon points="199.2,620.6 195.2,627.5 203.2,627.5" fill="#fff" stroke="#2828e0" stroke-width="1.8"/>
<polygon points="204.6,588.3 200.6,595.2 208.6,595.2" fill="#fff" stroke="#2828e0" stroke-width="1.8"/>
<polygon points="210.4,550.6 206.4,557.5 214.4,557.5" fill="#fff" stroke="#2828e0" stroke-width="1.8"/>
<polygon points="216.9,521.8 212.9,528.7 220.9,528.7" fill="#fff" stroke="#2828e0" stroke-width="1.8"/>
<polygon points="225.5,493.8 221.5,500.7 229.5,500.7" fill="#fff" stroke="#2828e0" stroke-width="1.8"/>
<polygon points="233.4,470.2 229.4,477.1 237.4,477.1" fill="#fff" stroke="#2828e0" stroke-width="1.8"/>
<polygon points="244.9,451.4 240.9,458.3 248.9,458.3" fill="#fff" stroke="#2828e0" stroke-width="1.8"/>
<polygon points="256.7,435.7 252.7,442.6 260.7,442.6" fill="#fff" stroke="#2828e0" stroke-width="1.8"/>
<polygon points="269.7,426.0 265.7,432.9 273.7,432.9" fill="#fff" stroke="#2828e0" stroke-width="1.8"/>
<polygon points="284.0,420.3 280.0,427.2 288.0,427.2" fill="#fff" stroke="#2828e0" stroke-width="1.8"/>
<polygon points="299.0,416.8 295.0,423.7 303.0,423.7" fill="#fff" stroke="#2828e0" stroke-width="1.8"/>
<polygon points="314.0,415.0 310.0,421.9 318.0,421.9" fill="#fff" stroke="#2828e0" stroke-width="1.8"/>
<polygon points="329.0,414.1 325.0,421.0 333.0,421.0" fill="#fff" stroke="#2828e0" stroke-width="1.8"/>
<polygon points="344.0,413.6 340.0,420.5 348.0,420.5" fill="#fff" stroke="#2828e0" stroke-width="1.8"/>
<polygon points="359.0,413.4 355.0,420.3 363.0,420.3" fill="#fff" stroke="#2828e0" stroke-width="1.8"/>
<polygon points="374.0,413.3 370.0,420.2 378.0,420.2" fill="#fff" stroke="#2828e0" stroke-width="1.8"/>
<polygon points="389.0,413.2 385.0,420.1 393.0,420.1" fill="#fff" stroke="#2828e0" stroke-width="1.8"/>
<polygon points="404.0,413.2 400.0,420.1 408.0,420.1" fill="#fff" stroke="#2828e0" stroke-width="1.8"/>
<polygon points="419.0,413.2 415.0,420.1 423.0,420.1" fill="#fff" stroke="#2828e0" stroke-width="1.8"/>
<polygon points="434.0,413.2 430.0,420.1 438.0,420.1" fill="#fff" stroke="#2828e0" stroke-width="1.8"/>
<polygon points="441.0,413.2 437.0,420.1 445.0,420.1" fill="#fff" stroke="#2828e0" stroke-width="1.8"/>
<polygon points="214.7,680.8 210.7,673.9 218.7,673.9" fill="#fff" stroke="#22e8e8" stroke-width="1.8"/>
<polygon points="217.9,638.7 213.9,631.8 221.9,631.8" fill="#fff" stroke="#22e8e8" stroke-width="1.8"/>
<polygon points="221.6,598.4 217.6,591.5 225.6,591.5" fill="#fff" stroke="#22e8e8" stroke-width="1.8"/>
<polygon points="226.6,561.1 222.6,554.2 230.6,554.2" fill="#fff" stroke="#22e8e8" stroke-width="1.8"/>
<polygon points="232.0,527.0 228.0,520.1 236.0,520.1" fill="#fff" stroke="#22e8e8" stroke-width="1.8"/>
<polygon points="238.4,495.8 234.4,488.9 242.4,488.9" fill="#fff" stroke="#22e8e8" stroke-width="1.8"/>
<polygon points="246.0,469.9 242.0,463.0 250.0,463.0" fill="#fff" stroke="#22e8e8" stroke-width="1.8"/>
<polygon points="256.7,450.5 252.7,443.6 260.7,443.6" fill="#fff" stroke="#22e8e8" stroke-width="1.8"/>
<polygon points="268.6,437.6 264.6,430.7 272.6,430.7" fill="#fff" stroke="#22e8e8" stroke-width="1.8"/>
<polygon points="282.0,430.2 278.0,423.3 286.0,423.3" fill="#fff" stroke="#22e8e8" stroke-width="1.8"/>
<polygon points="297.0,425.7 293.0,418.8 301.0,418.8" fill="#fff" stroke="#22e8e8" stroke-width="1.8"/>
<polygon points="312.0,423.5 308.0,416.6 316.0,416.6" fill="#fff" stroke="#22e8e8" stroke-width="1.8"/>
<polygon points="327.0,422.5 323.0,415.6 331.0,415.6" fill="#fff" stroke="#22e8e8" stroke-width="1.8"/>
<polygon points="342.0,422.1 338.0,415.2 346.0,415.2" fill="#fff" stroke="#22e8e8" stroke-width="1.8"/>
<polygon points="357.0,421.9 353.0,415.0 361.0,415.0" fill="#fff" stroke="#22e8e8" stroke-width="1.8"/>
<polygon points="372.0,421.8 368.0,414.9 376.0,414.9" fill="#fff" stroke="#22e8e8" stroke-width="1.8"/>
<polygon points="387.0,421.8 383.0,414.9 391.0,414.9" fill="#fff" stroke="#22e8e8" stroke-width="1.8"/>
<polygon points="402.0,421.8 398.0,414.9 406.0,414.9" fill="#fff" stroke="#22e8e8" stroke-width="1.8"/>
<polygon points="417.0,421.8 413.0,414.9 421.0,414.9" fill="#fff" stroke="#22e8e8" stroke-width="1.8"/>
<polygon points="432.0,421.8 428.0,414.9 436.0,414.9" fill="#fff" stroke="#22e8e8" stroke-width="1.8"/>
<polygon points="441.0,421.8 437.0,414.9 445.0,414.9" fill="#fff" stroke="#22e8e8" stroke-width="1.8"/>
<circle cx="279.8" cy="496.6" r="3.6" fill="#8a8a8a" stroke="#7a7a7a" stroke-width="0.8"/>
<circle cx="296.0" cy="469.3" r="3.6" fill="#8a8a8a" stroke="#7a7a7a" stroke-width="0.8"/>
<circle cx="312.4" cy="444.7" r="3.6" fill="#8a8a8a" stroke="#7a7a7a" stroke-width="0.8"/>
<circle cx="329.3" cy="424.7" r="3.6" fill="#8a8a8a" stroke="#7a7a7a" stroke-width="0.8"/>
<circle cx="345.0" cy="416.4" r="3.6" fill="#8a8a8a" stroke="#7a7a7a" stroke-width="0.8"/>
<circle cx="360.7" cy="416.1" r="3.6" fill="#8a8a8a" stroke="#7a7a7a" stroke-width="0.8"/>
<circle cx="377.0" cy="416.0" r="3.6" fill="#8a8a8a" stroke="#7a7a7a" stroke-width="0.8"/>
<circle cx="393.3" cy="416.0" r="3.6" fill="#8a8a8a" stroke="#7a7a7a" stroke-width="0.8"/>
<circle cx="409.0" cy="416.0" r="3.6" fill="#8a8a8a" stroke="#7a7a7a" stroke-width="0.8"/>
<circle cx="425.9" cy="416.0" r="3.6" fill="#8a8a8a" stroke="#7a7a7a" stroke-width="0.8"/>
<circle cx="440.3" cy="416.0" r="3.6" fill="#8a8a8a" stroke="#7a7a7a" stroke-width="0.8"/>
</g>
<rect x="80.5" y="400.5" width="360" height="287.5" fill="none" stroke="#6a6a6a" stroke-width="2"/>
<line x1="440.5" y1="415" x2="440.5" y2="688" stroke="#6a6ad0" stroke-width="1.6"/>
<line x1="80.5" y1="414.0" x2="85.5" y2="414.0" stroke="#6a6a6a" stroke-width="1.4"/>
<line x1="80.5" y1="441.4" x2="83.5" y2="441.4" stroke="#6a6a6a" stroke-width="1.4"/>
<line x1="80.5" y1="468.7" x2="85.5" y2="468.7" stroke="#6a6a6a" stroke-width="1.4"/>
<line x1="80.5" y1="496.1" x2="83.5" y2="496.1" stroke="#6a6a6a" stroke-width="1.4"/>
<line x1="80.5" y1="523.4" x2="85.5" y2="523.4" stroke="#6a6a6a" stroke-width="1.4"/>
<line x1="80.5" y1="550.8" x2="83.5" y2="550.8" stroke="#6a6a6a" stroke-width="1.4"/>
<line x1="80.5" y1="578.1" x2="85.5" y2="578.1" stroke="#6a6a6a" stroke-width="1.4"/>
<line x1="80.5" y1="605.5" x2="83.5" y2="605.5" stroke="#6a6a6a" stroke-width="1.4"/>
<line x1="80.5" y1="632.8" x2="85.5" y2="632.8" stroke="#6a6a6a" stroke-width="1.4"/>
<line x1="80.5" y1="660.1" x2="83.5" y2="660.1" stroke="#6a6a6a" stroke-width="1.4"/>
<line x1="80.5" y1="687.5" x2="85.5" y2="687.5" stroke="#6a6a6a" stroke-width="1.4"/>
<line x1="80.5" y1="688" x2="80.5" y2="683.0" stroke="#6a6a6a" stroke-width="1.4"/>
<line x1="125.5" y1="688" x2="125.5" y2="685.0" stroke="#6a6a6a" stroke-width="1.4"/>
<line x1="170.5" y1="688" x2="170.5" y2="683.0" stroke="#6a6a6a" stroke-width="1.4"/>
<line x1="215.5" y1="688" x2="215.5" y2="685.0" stroke="#6a6a6a" stroke-width="1.4"/>
<line x1="260.5" y1="688" x2="260.5" y2="683.0" stroke="#6a6a6a" stroke-width="1.4"/>
<line x1="305.5" y1="688" x2="305.5" y2="685.0" stroke="#6a6a6a" stroke-width="1.4"/>
<line x1="350.5" y1="688" x2="350.5" y2="683.0" stroke="#6a6a6a" stroke-width="1.4"/>
<line x1="395.5" y1="688" x2="395.5" y2="685.0" stroke="#6a6a6a" stroke-width="1.4"/>
<line x1="440.5" y1="688" x2="440.5" y2="683.0" stroke="#6a6a6a" stroke-width="1.4"/>
<text x="75" y="420.3" text-anchor="end" font-family='"Liberation Sans", sans-serif' font-size="18.5" fill="#1a1a1a">0</text>
<text x="75" y="475.0" text-anchor="end" font-family='"Liberation Sans", sans-serif' font-size="18.5" fill="#1a1a1a">-20</text>
<text x="75" y="529.7" text-anchor="end" font-family='"Liberation Sans", sans-serif' font-size="18.5" fill="#1a1a1a">-40</text>
<text x="75" y="584.4" text-anchor="end" font-family='"Liberation Sans", sans-serif' font-size="18.5" fill="#1a1a1a">-60</text>
<text x="75" y="639.1" text-anchor="end" font-family='"Liberation Sans", sans-serif' font-size="18.5" fill="#1a1a1a">-80</text>
<text x="75" y="693.8" text-anchor="end" font-family='"Liberation Sans", sans-serif' font-size="18.5" fill="#1a1a1a">-100</text>
<text x="80.5" y="708.5" text-anchor="middle" font-family='"Liberation Sans", sans-serif' font-size="18.5" fill="#1a1a1a">-0.3</text>
<text x="170.5" y="708.5" text-anchor="middle" font-family='"Liberation Sans", sans-serif' font-size="18.5" fill="#1a1a1a">-0.2</text>
<text x="260.5" y="708.5" text-anchor="middle" font-family='"Liberation Sans", sans-serif' font-size="18.5" fill="#1a1a1a">-0.1</text>
<text x="350.5" y="708.5" text-anchor="middle" font-family='"Liberation Sans", sans-serif' font-size="18.5" fill="#1a1a1a">0.0</text>
<text x="440.5" y="708.5" text-anchor="middle" font-family='"Liberation Sans", sans-serif' font-size="18.5" fill="#1a1a1a">0.1</text>
<text x="262" y="738.5" text-anchor="middle" font-family='"Liberation Sans", sans-serif' font-size="19" fill="#1a1a1a">Potential (V versus RHE)</text>
<g transform="translate(32,639.5) rotate(-90)" font-family='"Liberation Sans", sans-serif' fill="#1a1a1a"><text x="0" y="0" font-size="18.5">j (mA cm</text><text x="78" y="-12" font-size="11.5">−2</text><text x="89.5" y="5.5" font-size="15" textLength="75" lengthAdjust="spacingAndGlyphs">geometric</text><text x="165.5" y="0" font-size="18.3">)</text></g>
<text x="27.5" y="414" font-family='"Liberation Sans", sans-serif' font-weight="bold" font-size="25" fill="#000">c</text>
<line x1="303" y1="478.7" x2="345" y2="478.7" stroke="#555" stroke-width="1.5"/>
<rect x="320.7" y="475.4" width="6.6" height="6.6" fill="#000" stroke="#000" stroke-width="0.8"/>
<text x="349.5" y="485.5" font-family='"Liberation Sans", sans-serif' font-size="18.8" fill="#1a1a1a">bulk WS<tspan font-size="11.2" dy="6">2</tspan></text>
<line x1="303" y1="510.3" x2="345" y2="510.3" stroke="#ff2a2a" stroke-width="1.5"/>
<rect x="321.0" y="507.3" width="6.0" height="6.0" fill="#fff" stroke="#ff2a2a" stroke-width="1.8"/>
<text x="349.5" y="517.1" font-family='"Liberation Sans", sans-serif' font-size="18.8" fill="#1a1a1a">WS<tspan font-size="11.3" dy="6">2</tspan><tspan dy="-6">–ox0</tspan></text>
<line x1="303" y1="541.9" x2="345" y2="541.9" stroke="#22e022" stroke-width="1.5"/>
<circle cx="324.0" cy="541.9" r="3.6" fill="#fff" stroke="#22e022" stroke-width="1.8"/>
<text x="349.5" y="548.7" font-family='"Liberation Sans", sans-serif' font-size="18.8" fill="#1a1a1a">WS<tspan font-size="11.3" dy="6">2</tspan><tspan dy="-6">–ox2</tspan></text>
<line x1="303" y1="573.5" x2="345" y2="573.5" stroke="#2828e0" stroke-width="1.5"/>
<polygon points="324.0,569.3 320.0,576.2 328.0,576.2" fill="#fff" stroke="#2828e0" stroke-width="1.8"/>
<text x="349.5" y="580.3" font-family='"Liberation Sans", sans-serif' font-size="18.8" fill="#1a1a1a">WS<tspan font-size="11.3" dy="6">2</tspan><tspan dy="-6">–ox4</tspan></text>
<line x1="303" y1="605.1" x2="345" y2="605.1" stroke="#22e8e8" stroke-width="1.5"/>
<polygon points="324.0,609.3 320.0,602.4 328.0,602.4" fill="#fff" stroke="#22e8e8" stroke-width="1.8"/>
<text x="349.5" y="611.9" font-family='"Liberation Sans", sans-serif' font-size="18.8" fill="#1a1a1a">WS<tspan font-size="11.3" dy="6">2</tspan><tspan dy="-6">–ox6</tspan></text>
<line x1="303" y1="636.7" x2="345" y2="636.7" stroke="#8a8a60" stroke-width="1.5"/>
<polygon points="324,632.3 325.2,635.1 328.2,635.3 325.9,637.3 326.6,640.3 324,638.7 321.4,640.3 322.1,637.3 319.8,635.3 322.8,635.1" fill="#9a9640" stroke="#6a6a20" stroke-width="1.2" stroke-linejoin="round"/>
<text x="349.5" y="643.5" font-family='"Liberation Sans", sans-serif' font-size="18.8" fill="#1a1a1a">WS<tspan font-size="11.3" dy="6">2</tspan><tspan dy="-6">–ox12</tspan></text>
<line x1="303" y1="669.0" x2="345" y2="669.0" stroke="#8a8ad8" stroke-width="1.5"/>
<circle cx="324.0" cy="669.0" r="3.6" fill="#8a8a8a" stroke="#7a7a7a" stroke-width="0.8"/>
<text x="349.5" y="675.8" font-family='"Liberation Sans", sans-serif' font-size="18.8" fill="#1a1a1a">Pt</text>
<g clip-path="url(#clipPd)">
<polyline points="588,592.7 593.1,590.3 621.9,576.7 648.6,563.6 673.7,550.4 697.7,538 718.8,526 738.8,514 757.5,502.9 774.3,492.5 790.3,482.6 804.6,473 817.4,464.2 829.4,455.8 840.5,448.2 850.5,441 859.3,433.9 867.3,427.1 875.2,420.7 882.4,414.7 889.2,408.7" fill="none" stroke="#1a1a1a" stroke-width="1.4"/>
<polyline points="647.8,602.3 659.8,595.5 676.9,587.5 696.5,580.3 716.4,572.7 736,566 755.1,560.4 771.9,554.4 787,550 801.4,546 814.6,542 825.4,538.8 836.5,535.6 846.1,532.8 854.5,530.4 862.5,528.4 870.5,526.4 878,524.5 884,522 888,519.3" fill="none" stroke="#e02828" stroke-width="1.4"/>
<polyline points="550.3,658.3 554.7,655 578.2,648.9 614.2,642.5 653.8,636.1 688.8,630.2 717.6,623.4 740.4,617.4 757.5,611 772.7,604.7 784.7,598.7 796.2,592.7 805,586.7 812.6,580.3" fill="none" stroke="#2424cc" stroke-width="1.4"/>
<rect x="589.9" y="587.0" width="6.5" height="6.5" fill="#fff" stroke="#1a1a1a" stroke-width="1.5"/>
<rect x="618.6" y="573.5" width="6.5" height="6.5" fill="#fff" stroke="#1a1a1a" stroke-width="1.5"/>
<rect x="645.4" y="560.4" width="6.5" height="6.5" fill="#fff" stroke="#1a1a1a" stroke-width="1.5"/>
<rect x="670.5" y="547.1" width="6.5" height="6.5" fill="#fff" stroke="#1a1a1a" stroke-width="1.5"/>
<rect x="694.5" y="534.8" width="6.5" height="6.5" fill="#fff" stroke="#1a1a1a" stroke-width="1.5"/>
<rect x="715.5" y="522.8" width="6.5" height="6.5" fill="#fff" stroke="#1a1a1a" stroke-width="1.5"/>
<rect x="735.5" y="510.8" width="6.5" height="6.5" fill="#fff" stroke="#1a1a1a" stroke-width="1.5"/>
<rect x="754.2" y="499.6" width="6.5" height="6.5" fill="#fff" stroke="#1a1a1a" stroke-width="1.5"/>
<rect x="771.0" y="489.2" width="6.5" height="6.5" fill="#fff" stroke="#1a1a1a" stroke-width="1.5"/>
<rect x="787.0" y="479.4" width="6.5" height="6.5" fill="#fff" stroke="#1a1a1a" stroke-width="1.5"/>
<rect x="801.4" y="469.8" width="6.5" height="6.5" fill="#fff" stroke="#1a1a1a" stroke-width="1.5"/>
<rect x="814.1" y="460.9" width="6.5" height="6.5" fill="#fff" stroke="#1a1a1a" stroke-width="1.5"/>
<rect x="826.1" y="452.6" width="6.5" height="6.5" fill="#fff" stroke="#1a1a1a" stroke-width="1.5"/>
<rect x="837.2" y="444.9" width="6.5" height="6.5" fill="#fff" stroke="#1a1a1a" stroke-width="1.5"/>
<rect x="847.2" y="437.8" width="6.5" height="6.5" fill="#fff" stroke="#1a1a1a" stroke-width="1.5"/>
<rect x="856.0" y="430.6" width="6.5" height="6.5" fill="#fff" stroke="#1a1a1a" stroke-width="1.5"/>
<rect x="864.0" y="423.9" width="6.5" height="6.5" fill="#fff" stroke="#1a1a1a" stroke-width="1.5"/>
<rect x="872.0" y="417.4" width="6.5" height="6.5" fill="#fff" stroke="#1a1a1a" stroke-width="1.5"/>
<rect x="879.1" y="411.4" width="6.5" height="6.5" fill="#fff" stroke="#1a1a1a" stroke-width="1.5"/>
<rect x="886.0" y="405.4" width="6.5" height="6.5" fill="#fff" stroke="#1a1a1a" stroke-width="1.5"/>
<circle cx="659.8" cy="595.5" r="3.4" fill="#fff" stroke="#e02828" stroke-width="1.3"/>
<circle cx="676.9" cy="587.5" r="3.4" fill="#fff" stroke="#e02828" stroke-width="1.3"/>
<circle cx="696.5" cy="580.3" r="3.4" fill="#fff" stroke="#e02828" stroke-width="1.3"/>
<circle cx="716.4" cy="572.7" r="3.4" fill="#fff" stroke="#e02828" stroke-width="1.3"/>
<circle cx="736.0" cy="566.0" r="3.4" fill="#fff" stroke="#e02828" stroke-width="1.3"/>
<circle cx="755.1" cy="560.4" r="3.4" fill="#fff" stroke="#e02828" stroke-width="1.3"/>
<circle cx="771.9" cy="554.4" r="3.4" fill="#fff" stroke="#e02828" stroke-width="1.3"/>
<circle cx="787.0" cy="550.0" r="3.4" fill="#fff" stroke="#e02828" stroke-width="1.3"/>
<circle cx="801.4" cy="546.0" r="3.4" fill="#fff" stroke="#e02828" stroke-width="1.3"/>
<circle cx="814.6" cy="542.0" r="3.4" fill="#fff" stroke="#e02828" stroke-width="1.3"/>
<circle cx="825.4" cy="538.8" r="3.4" fill="#fff" stroke="#e02828" stroke-width="1.3"/>
<circle cx="836.5" cy="535.6" r="3.4" fill="#fff" stroke="#e02828" stroke-width="1.3"/>
<circle cx="846.1" cy="532.8" r="3.4" fill="#fff" stroke="#e02828" stroke-width="1.3"/>
<circle cx="854.5" cy="530.4" r="3.4" fill="#fff" stroke="#e02828" stroke-width="1.3"/>
<circle cx="862.5" cy="528.4" r="3.4" fill="#fff" stroke="#e02828" stroke-width="1.3"/>
<circle cx="870.5" cy="526.4" r="3.4" fill="#fff" stroke="#e02828" stroke-width="1.3"/>
<circle cx="878.0" cy="524.5" r="3.4" fill="#fff" stroke="#e02828" stroke-width="1.3"/>
<circle cx="884.0" cy="522.0" r="3.4" fill="#fff" stroke="#e02828" stroke-width="1.3"/>
<circle cx="888.0" cy="519.3" r="3.4" fill="#fff" stroke="#e02828" stroke-width="1.3"/>
<polygon points="554.7,650.0 550.0,658.2 559.5,658.2" fill="#fff" stroke="#2424cc" stroke-width="1.6"/>
<polygon points="578.2,643.9 573.5,652.1 583.0,652.1" fill="#fff" stroke="#2424cc" stroke-width="1.6"/>
<polygon points="614.2,637.5 609.5,645.8 619.0,645.8" fill="#fff" stroke="#2424cc" stroke-width="1.6"/>
<polygon points="653.8,631.1 649.0,639.4 658.5,639.4" fill="#fff" stroke="#2424cc" stroke-width="1.6"/>
<polygon points="688.8,625.2 684.0,633.5 693.5,633.5" fill="#fff" stroke="#2424cc" stroke-width="1.6"/>
<polygon points="717.6,618.4 712.9,626.6 722.4,626.6" fill="#fff" stroke="#2424cc" stroke-width="1.6"/>
<polygon points="740.4,612.4 735.6,620.6 745.1,620.6" fill="#fff" stroke="#2424cc" stroke-width="1.6"/>
<polygon points="757.5,606.0 752.8,614.2 762.2,614.2" fill="#fff" stroke="#2424cc" stroke-width="1.6"/>
<polygon points="772.7,599.7 768.0,608.0 777.5,608.0" fill="#fff" stroke="#2424cc" stroke-width="1.6"/>
<polygon points="784.7,593.7 780.0,602.0 789.5,602.0" fill="#fff" stroke="#2424cc" stroke-width="1.6"/>
<polygon points="796.2,587.7 791.5,596.0 801.0,596.0" fill="#fff" stroke="#2424cc" stroke-width="1.6"/>
<polygon points="805.0,581.7 800.2,590.0 809.8,590.0" fill="#fff" stroke="#2424cc" stroke-width="1.6"/>
<polygon points="812.6,575.3 807.9,583.5 817.4,583.5" fill="#fff" stroke="#2424cc" stroke-width="1.6"/>
</g>
<rect x="540.5" y="392" width="360.5" height="286" fill="none" stroke="#3a3a3a" stroke-width="1.6"/>
<line x1="540.5" y1="656.6" x2="546.5" y2="656.6" stroke="#3a3a3a" stroke-width="1.3"/>
<line x1="540.5" y1="634.5" x2="543.1" y2="634.5" stroke="#3a3a3a" stroke-width="1.3"/>
<line x1="540.5" y1="612.4" x2="546.5" y2="612.4" stroke="#3a3a3a" stroke-width="1.3"/>
<line x1="540.5" y1="590.3" x2="543.1" y2="590.3" stroke="#3a3a3a" stroke-width="1.3"/>
<line x1="540.5" y1="568.2" x2="546.5" y2="568.2" stroke="#3a3a3a" stroke-width="1.3"/>
<line x1="540.5" y1="546.1" x2="543.1" y2="546.1" stroke="#3a3a3a" stroke-width="1.3"/>
<line x1="540.5" y1="524.0" x2="546.5" y2="524.0" stroke="#3a3a3a" stroke-width="1.3"/>
<line x1="540.5" y1="501.9" x2="543.1" y2="501.9" stroke="#3a3a3a" stroke-width="1.3"/>
<line x1="540.5" y1="479.8" x2="546.5" y2="479.8" stroke="#3a3a3a" stroke-width="1.3"/>
<line x1="540.5" y1="457.7" x2="543.1" y2="457.7" stroke="#3a3a3a" stroke-width="1.3"/>
<line x1="540.5" y1="435.6" x2="546.5" y2="435.6" stroke="#3a3a3a" stroke-width="1.3"/>
<line x1="540.5" y1="413.5" x2="543.1" y2="413.5" stroke="#3a3a3a" stroke-width="1.3"/>
<line x1="540.5" y1="678.7" x2="545.5" y2="678.7" stroke="#3a3a3a" stroke-width="1.3"/>
<line x1="578.5" y1="678" x2="578.5" y2="673.0" stroke="#3a3a3a" stroke-width="1.3"/>
<line x1="617.0" y1="678" x2="617.0" y2="675.0" stroke="#3a3a3a" stroke-width="1.3"/>
<line x1="655.4" y1="678" x2="655.4" y2="673.0" stroke="#3a3a3a" stroke-width="1.3"/>
<line x1="693.9" y1="678" x2="693.9" y2="675.0" stroke="#3a3a3a" stroke-width="1.3"/>
<line x1="732.3" y1="678" x2="732.3" y2="673.0" stroke="#3a3a3a" stroke-width="1.3"/>
<line x1="770.8" y1="678" x2="770.8" y2="675.0" stroke="#3a3a3a" stroke-width="1.3"/>
<line x1="809.2" y1="678" x2="809.2" y2="673.0" stroke="#3a3a3a" stroke-width="1.3"/>
<line x1="847.7" y1="678" x2="847.7" y2="675.0" stroke="#3a3a3a" stroke-width="1.3"/>
<line x1="886.1" y1="678" x2="886.1" y2="673.0" stroke="#3a3a3a" stroke-width="1.3"/>
<text x="533.5" y="662.7" text-anchor="end" font-family='"Liberation Sans", sans-serif' font-size="17.5" fill="#1a1a1a">0.00</text>
<text x="533.5" y="618.5" text-anchor="end" font-family='"Liberation Sans", sans-serif' font-size="17.5" fill="#1a1a1a">0.05</text>
<text x="533.5" y="574.3" text-anchor="end" font-family='"Liberation Sans", sans-serif' font-size="17.5" fill="#1a1a1a">0.10</text>
<text x="533.5" y="530.1" text-anchor="end" font-family='"Liberation Sans", sans-serif' font-size="17.5" fill="#1a1a1a">0.15</text>
<text x="533.5" y="485.9" text-anchor="end" font-family='"Liberation Sans", sans-serif' font-size="17.5" fill="#1a1a1a">0.20</text>
<text x="533.5" y="441.7" text-anchor="end" font-family='"Liberation Sans", sans-serif' font-size="17.5" fill="#1a1a1a">0.25</text>
<text x="533.5" y="397.5" text-anchor="end" font-family='"Liberation Sans", sans-serif' font-size="17.5" fill="#1a1a1a">0.30</text>
<text x="579.5" y="699" text-anchor="middle" font-family='"Liberation Sans", sans-serif' font-size="17.5" fill="#1a1a1a">0.0</text>
<text x="656.4" y="699" text-anchor="middle" font-family='"Liberation Sans", sans-serif' font-size="17.5" fill="#1a1a1a">0.5</text>
<text x="733.3" y="699" text-anchor="middle" font-family='"Liberation Sans", sans-serif' font-size="17.5" fill="#1a1a1a">1.0</text>
<text x="810.2" y="699" text-anchor="middle" font-family='"Liberation Sans", sans-serif' font-size="17.5" fill="#1a1a1a">1.5</text>
<text x="887.1" y="699" text-anchor="middle" font-family='"Liberation Sans", sans-serif' font-size="17.5" fill="#1a1a1a">2.0</text>
<text x="650.5" y="732.8" font-family='"Liberation Sans", sans-serif' font-size="19" fill="#1a1a1a">log (|j [mA cm<tspan font-size="12" dy="-8.5">−2</tspan><tspan dy="8.5">]|)</tspan></text>
<text transform="translate(488.5,601.8) rotate(-90)" font-family='"Liberation Sans", sans-serif' font-size="19.6" fill="#1a1a1a">Overpotential (V</text>
<text x="468" y="422.8" font-family='"Liberation Sans", sans-serif' font-weight="bold" font-size="26" fill="#000">d</text>
<line x1="577" y1="436.5" x2="618" y2="436.5" stroke="#1a1a1a" stroke-width="1.4"/>
<rect x="594.8" y="433.2" width="6.5" height="6.5" fill="#fff" stroke="#1a1a1a" stroke-width="1.5"/>
<text x="623.5" y="442.9" font-family='"Liberation Sans", sans-serif' font-size="18.6" fill="#1a1a1a">WS<tspan font-size="11.2" dy="6">2</tspan><tspan dy="-6">–ox0</tspan></text>
<line x1="577" y1="467.0" x2="618" y2="467.0" stroke="#e02828" stroke-width="1.4"/>
<circle cx="598.0" cy="467.0" r="3.4" fill="#fff" stroke="#e02828" stroke-width="1.3"/>
<text x="623.5" y="473.4" font-family='"Liberation Sans", sans-serif' font-size="18.6" fill="#1a1a1a">WS<tspan font-size="11.2" dy="6">2</tspan><tspan dy="-6">–ox6</tspan></text>
<line x1="577" y1="497.5" x2="618" y2="497.5" stroke="#2424cc" stroke-width="1.4"/>
<polygon points="598.0,492.5 593.2,500.8 602.8,500.8" fill="#fff" stroke="#2424cc" stroke-width="1.6"/>
<text x="623.5" y="503.9" font-family='"Liberation Sans", sans-serif' font-size="18.6" fill="#1a1a1a">Pt</text>
</svg>
</body></html>
